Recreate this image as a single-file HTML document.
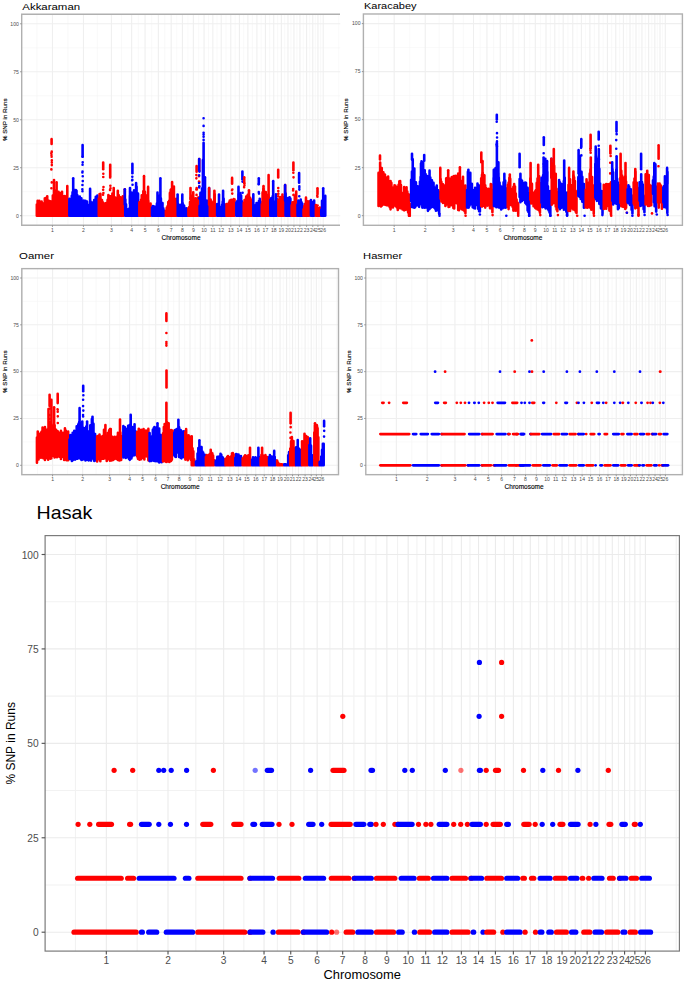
<!DOCTYPE html>
<html><head><meta charset="utf-8"><style>
html,body{margin:0;padding:0;background:#fff;}
svg{display:block;font-family:"Liberation Sans",sans-serif;}
</style></head><body>
<svg width="685" height="981" viewBox="0 0 685 981">
<rect width="685" height="981" fill="#fff"/>
<line x1="36.96" y1="14.21" x2="36.96" y2="225.29" stroke="#f4f4f4" stroke-width="0.55"/>
<line x1="67.95" y1="14.21" x2="67.95" y2="225.29" stroke="#f4f4f4" stroke-width="0.55"/>
<line x1="97.41" y1="14.21" x2="97.41" y2="225.29" stroke="#f4f4f4" stroke-width="0.55"/>
<line x1="121.52" y1="14.21" x2="121.52" y2="225.29" stroke="#f4f4f4" stroke-width="0.55"/>
<line x1="138.37" y1="14.21" x2="138.37" y2="225.29" stroke="#f4f4f4" stroke-width="0.55"/>
<line x1="151.71" y1="14.21" x2="151.71" y2="225.29" stroke="#f4f4f4" stroke-width="0.55"/>
<line x1="164.76" y1="14.21" x2="164.76" y2="225.29" stroke="#f4f4f4" stroke-width="0.55"/>
<line x1="176.80" y1="14.21" x2="176.80" y2="225.29" stroke="#f4f4f4" stroke-width="0.55"/>
<line x1="187.90" y1="14.21" x2="187.90" y2="225.29" stroke="#f4f4f4" stroke-width="0.55"/>
<line x1="198.72" y1="14.21" x2="198.72" y2="225.29" stroke="#f4f4f4" stroke-width="0.55"/>
<line x1="208.46" y1="14.21" x2="208.46" y2="225.29" stroke="#f4f4f4" stroke-width="0.55"/>
<line x1="217.03" y1="14.21" x2="217.03" y2="225.29" stroke="#f4f4f4" stroke-width="0.55"/>
<line x1="226.00" y1="14.21" x2="226.00" y2="225.29" stroke="#f4f4f4" stroke-width="0.55"/>
<line x1="235.10" y1="14.21" x2="235.10" y2="225.29" stroke="#f4f4f4" stroke-width="0.55"/>
<line x1="243.65" y1="14.21" x2="243.65" y2="225.29" stroke="#f4f4f4" stroke-width="0.55"/>
<line x1="252.40" y1="14.21" x2="252.40" y2="225.29" stroke="#f4f4f4" stroke-width="0.55"/>
<line x1="261.16" y1="14.21" x2="261.16" y2="225.29" stroke="#f4f4f4" stroke-width="0.55"/>
<line x1="269.58" y1="14.21" x2="269.58" y2="225.29" stroke="#f4f4f4" stroke-width="0.55"/>
<line x1="277.55" y1="14.21" x2="277.55" y2="225.29" stroke="#f4f4f4" stroke-width="0.55"/>
<line x1="284.67" y1="14.21" x2="284.67" y2="225.29" stroke="#f4f4f4" stroke-width="0.55"/>
<line x1="290.96" y1="14.21" x2="290.96" y2="225.29" stroke="#f4f4f4" stroke-width="0.55"/>
<line x1="296.93" y1="14.21" x2="296.93" y2="225.29" stroke="#f4f4f4" stroke-width="0.55"/>
<line x1="303.26" y1="14.21" x2="303.26" y2="225.29" stroke="#f4f4f4" stroke-width="0.55"/>
<line x1="309.68" y1="14.21" x2="309.68" y2="225.29" stroke="#f4f4f4" stroke-width="0.55"/>
<line x1="315.34" y1="14.21" x2="315.34" y2="225.29" stroke="#f4f4f4" stroke-width="0.55"/>
<line x1="320.57" y1="14.21" x2="320.57" y2="225.29" stroke="#f4f4f4" stroke-width="0.55"/>
<line x1="338.70" y1="14.21" x2="338.70" y2="225.29" stroke="#f4f4f4" stroke-width="0.55"/>
<line x1="21.70" y1="191.71" x2="340.30" y2="191.71" stroke="#f4f4f4" stroke-width="0.55"/>
<line x1="21.70" y1="143.74" x2="340.30" y2="143.74" stroke="#f4f4f4" stroke-width="0.55"/>
<line x1="21.70" y1="95.76" x2="340.30" y2="95.76" stroke="#f4f4f4" stroke-width="0.55"/>
<line x1="21.70" y1="47.79" x2="340.30" y2="47.79" stroke="#f4f4f4" stroke-width="0.55"/>
<line x1="52.45" y1="14.21" x2="52.45" y2="225.29" stroke="#efefef" stroke-width="1.10"/>
<line x1="83.44" y1="14.21" x2="83.44" y2="225.29" stroke="#efefef" stroke-width="1.10"/>
<line x1="111.39" y1="14.21" x2="111.39" y2="225.29" stroke="#efefef" stroke-width="1.10"/>
<line x1="131.66" y1="14.21" x2="131.66" y2="225.29" stroke="#efefef" stroke-width="1.10"/>
<line x1="145.08" y1="14.21" x2="145.08" y2="225.29" stroke="#efefef" stroke-width="1.10"/>
<line x1="158.35" y1="14.21" x2="158.35" y2="225.29" stroke="#efefef" stroke-width="1.10"/>
<line x1="171.17" y1="14.21" x2="171.17" y2="225.29" stroke="#efefef" stroke-width="1.10"/>
<line x1="182.43" y1="14.21" x2="182.43" y2="225.29" stroke="#efefef" stroke-width="1.10"/>
<line x1="193.37" y1="14.21" x2="193.37" y2="225.29" stroke="#efefef" stroke-width="1.10"/>
<line x1="204.07" y1="14.21" x2="204.07" y2="225.29" stroke="#efefef" stroke-width="1.10"/>
<line x1="212.85" y1="14.21" x2="212.85" y2="225.29" stroke="#efefef" stroke-width="1.10"/>
<line x1="221.21" y1="14.21" x2="221.21" y2="225.29" stroke="#efefef" stroke-width="1.10"/>
<line x1="230.79" y1="14.21" x2="230.79" y2="225.29" stroke="#efefef" stroke-width="1.10"/>
<line x1="239.41" y1="14.21" x2="239.41" y2="225.29" stroke="#efefef" stroke-width="1.10"/>
<line x1="247.89" y1="14.21" x2="247.89" y2="225.29" stroke="#efefef" stroke-width="1.10"/>
<line x1="256.91" y1="14.21" x2="256.91" y2="225.29" stroke="#efefef" stroke-width="1.10"/>
<line x1="265.42" y1="14.21" x2="265.42" y2="225.29" stroke="#efefef" stroke-width="1.10"/>
<line x1="273.74" y1="14.21" x2="273.74" y2="225.29" stroke="#efefef" stroke-width="1.10"/>
<line x1="281.37" y1="14.21" x2="281.37" y2="225.29" stroke="#efefef" stroke-width="1.10"/>
<line x1="287.97" y1="14.21" x2="287.97" y2="225.29" stroke="#efefef" stroke-width="1.10"/>
<line x1="293.95" y1="14.21" x2="293.95" y2="225.29" stroke="#efefef" stroke-width="1.10"/>
<line x1="299.92" y1="14.21" x2="299.92" y2="225.29" stroke="#efefef" stroke-width="1.10"/>
<line x1="306.60" y1="14.21" x2="306.60" y2="225.29" stroke="#efefef" stroke-width="1.10"/>
<line x1="312.76" y1="14.21" x2="312.76" y2="225.29" stroke="#efefef" stroke-width="1.10"/>
<line x1="317.92" y1="14.21" x2="317.92" y2="225.29" stroke="#efefef" stroke-width="1.10"/>
<line x1="323.21" y1="14.21" x2="323.21" y2="225.29" stroke="#efefef" stroke-width="1.10"/>
<line x1="21.70" y1="215.70" x2="340.30" y2="215.70" stroke="#efefef" stroke-width="1.10"/>
<line x1="21.70" y1="167.72" x2="340.30" y2="167.72" stroke="#efefef" stroke-width="1.10"/>
<line x1="21.70" y1="119.75" x2="340.30" y2="119.75" stroke="#efefef" stroke-width="1.10"/>
<line x1="21.70" y1="71.78" x2="340.30" y2="71.78" stroke="#efefef" stroke-width="1.10"/>
<line x1="21.70" y1="23.80" x2="340.30" y2="23.80" stroke="#efefef" stroke-width="1.10"/>
<line x1="378.68" y1="13.99" x2="378.68" y2="225.30" stroke="#f4f4f4" stroke-width="0.55"/>
<line x1="409.70" y1="13.99" x2="409.70" y2="225.30" stroke="#f4f4f4" stroke-width="0.55"/>
<line x1="439.21" y1="13.99" x2="439.21" y2="225.30" stroke="#f4f4f4" stroke-width="0.55"/>
<line x1="463.35" y1="13.99" x2="463.35" y2="225.30" stroke="#f4f4f4" stroke-width="0.55"/>
<line x1="480.22" y1="13.99" x2="480.22" y2="225.30" stroke="#f4f4f4" stroke-width="0.55"/>
<line x1="493.58" y1="13.99" x2="493.58" y2="225.30" stroke="#f4f4f4" stroke-width="0.55"/>
<line x1="506.64" y1="13.99" x2="506.64" y2="225.30" stroke="#f4f4f4" stroke-width="0.55"/>
<line x1="518.69" y1="13.99" x2="518.69" y2="225.30" stroke="#f4f4f4" stroke-width="0.55"/>
<line x1="529.81" y1="13.99" x2="529.81" y2="225.30" stroke="#f4f4f4" stroke-width="0.55"/>
<line x1="540.64" y1="13.99" x2="540.64" y2="225.30" stroke="#f4f4f4" stroke-width="0.55"/>
<line x1="550.39" y1="13.99" x2="550.39" y2="225.30" stroke="#f4f4f4" stroke-width="0.55"/>
<line x1="558.98" y1="13.99" x2="558.98" y2="225.30" stroke="#f4f4f4" stroke-width="0.55"/>
<line x1="567.96" y1="13.99" x2="567.96" y2="225.30" stroke="#f4f4f4" stroke-width="0.55"/>
<line x1="577.07" y1="13.99" x2="577.07" y2="225.30" stroke="#f4f4f4" stroke-width="0.55"/>
<line x1="585.63" y1="13.99" x2="585.63" y2="225.30" stroke="#f4f4f4" stroke-width="0.55"/>
<line x1="594.39" y1="13.99" x2="594.39" y2="225.30" stroke="#f4f4f4" stroke-width="0.55"/>
<line x1="603.16" y1="13.99" x2="603.16" y2="225.30" stroke="#f4f4f4" stroke-width="0.55"/>
<line x1="611.59" y1="13.99" x2="611.59" y2="225.30" stroke="#f4f4f4" stroke-width="0.55"/>
<line x1="619.58" y1="13.99" x2="619.58" y2="225.30" stroke="#f4f4f4" stroke-width="0.55"/>
<line x1="626.70" y1="13.99" x2="626.70" y2="225.30" stroke="#f4f4f4" stroke-width="0.55"/>
<line x1="633.00" y1="13.99" x2="633.00" y2="225.30" stroke="#f4f4f4" stroke-width="0.55"/>
<line x1="638.98" y1="13.99" x2="638.98" y2="225.30" stroke="#f4f4f4" stroke-width="0.55"/>
<line x1="645.31" y1="13.99" x2="645.31" y2="225.30" stroke="#f4f4f4" stroke-width="0.55"/>
<line x1="651.74" y1="13.99" x2="651.74" y2="225.30" stroke="#f4f4f4" stroke-width="0.55"/>
<line x1="657.41" y1="13.99" x2="657.41" y2="225.30" stroke="#f4f4f4" stroke-width="0.55"/>
<line x1="662.64" y1="13.99" x2="662.64" y2="225.30" stroke="#f4f4f4" stroke-width="0.55"/>
<line x1="680.80" y1="13.99" x2="680.80" y2="225.30" stroke="#f4f4f4" stroke-width="0.55"/>
<line x1="363.40" y1="191.69" x2="682.40" y2="191.69" stroke="#f4f4f4" stroke-width="0.55"/>
<line x1="363.40" y1="143.66" x2="682.40" y2="143.66" stroke="#f4f4f4" stroke-width="0.55"/>
<line x1="363.40" y1="95.64" x2="682.40" y2="95.64" stroke="#f4f4f4" stroke-width="0.55"/>
<line x1="363.40" y1="47.61" x2="682.40" y2="47.61" stroke="#f4f4f4" stroke-width="0.55"/>
<line x1="394.19" y1="13.99" x2="394.19" y2="225.30" stroke="#efefef" stroke-width="1.10"/>
<line x1="425.22" y1="13.99" x2="425.22" y2="225.30" stroke="#efefef" stroke-width="1.10"/>
<line x1="453.20" y1="13.99" x2="453.20" y2="225.30" stroke="#efefef" stroke-width="1.10"/>
<line x1="473.50" y1="13.99" x2="473.50" y2="225.30" stroke="#efefef" stroke-width="1.10"/>
<line x1="486.93" y1="13.99" x2="486.93" y2="225.30" stroke="#efefef" stroke-width="1.10"/>
<line x1="500.22" y1="13.99" x2="500.22" y2="225.30" stroke="#efefef" stroke-width="1.10"/>
<line x1="513.06" y1="13.99" x2="513.06" y2="225.30" stroke="#efefef" stroke-width="1.10"/>
<line x1="524.33" y1="13.99" x2="524.33" y2="225.30" stroke="#efefef" stroke-width="1.10"/>
<line x1="535.29" y1="13.99" x2="535.29" y2="225.30" stroke="#efefef" stroke-width="1.10"/>
<line x1="546.00" y1="13.99" x2="546.00" y2="225.30" stroke="#efefef" stroke-width="1.10"/>
<line x1="554.79" y1="13.99" x2="554.79" y2="225.30" stroke="#efefef" stroke-width="1.10"/>
<line x1="563.16" y1="13.99" x2="563.16" y2="225.30" stroke="#efefef" stroke-width="1.10"/>
<line x1="572.75" y1="13.99" x2="572.75" y2="225.30" stroke="#efefef" stroke-width="1.10"/>
<line x1="581.38" y1="13.99" x2="581.38" y2="225.30" stroke="#efefef" stroke-width="1.10"/>
<line x1="589.87" y1="13.99" x2="589.87" y2="225.30" stroke="#efefef" stroke-width="1.10"/>
<line x1="598.90" y1="13.99" x2="598.90" y2="225.30" stroke="#efefef" stroke-width="1.10"/>
<line x1="607.42" y1="13.99" x2="607.42" y2="225.30" stroke="#efefef" stroke-width="1.10"/>
<line x1="615.76" y1="13.99" x2="615.76" y2="225.30" stroke="#efefef" stroke-width="1.10"/>
<line x1="623.39" y1="13.99" x2="623.39" y2="225.30" stroke="#efefef" stroke-width="1.10"/>
<line x1="630.00" y1="13.99" x2="630.00" y2="225.30" stroke="#efefef" stroke-width="1.10"/>
<line x1="636.00" y1="13.99" x2="636.00" y2="225.30" stroke="#efefef" stroke-width="1.10"/>
<line x1="641.96" y1="13.99" x2="641.96" y2="225.30" stroke="#efefef" stroke-width="1.10"/>
<line x1="648.66" y1="13.99" x2="648.66" y2="225.30" stroke="#efefef" stroke-width="1.10"/>
<line x1="654.83" y1="13.99" x2="654.83" y2="225.30" stroke="#efefef" stroke-width="1.10"/>
<line x1="660.00" y1="13.99" x2="660.00" y2="225.30" stroke="#efefef" stroke-width="1.10"/>
<line x1="665.29" y1="13.99" x2="665.29" y2="225.30" stroke="#efefef" stroke-width="1.10"/>
<line x1="363.40" y1="215.70" x2="682.40" y2="215.70" stroke="#efefef" stroke-width="1.10"/>
<line x1="363.40" y1="167.67" x2="682.40" y2="167.67" stroke="#efefef" stroke-width="1.10"/>
<line x1="363.40" y1="119.65" x2="682.40" y2="119.65" stroke="#efefef" stroke-width="1.10"/>
<line x1="363.40" y1="71.62" x2="682.40" y2="71.62" stroke="#efefef" stroke-width="1.10"/>
<line x1="363.40" y1="23.60" x2="682.40" y2="23.60" stroke="#efefef" stroke-width="1.10"/>
<line x1="22.47" y1="268.63" x2="22.47" y2="474.67" stroke="#f4f4f4" stroke-width="0.55"/>
<line x1="37.52" y1="268.63" x2="37.52" y2="474.67" stroke="#f4f4f4" stroke-width="0.55"/>
<line x1="67.62" y1="268.63" x2="67.62" y2="474.67" stroke="#f4f4f4" stroke-width="0.55"/>
<line x1="96.13" y1="268.63" x2="96.13" y2="474.67" stroke="#f4f4f4" stroke-width="0.55"/>
<line x1="119.60" y1="268.63" x2="119.60" y2="474.67" stroke="#f4f4f4" stroke-width="0.55"/>
<line x1="136.17" y1="268.63" x2="136.17" y2="474.67" stroke="#f4f4f4" stroke-width="0.55"/>
<line x1="149.21" y1="268.63" x2="149.21" y2="474.67" stroke="#f4f4f4" stroke-width="0.55"/>
<line x1="161.86" y1="268.63" x2="161.86" y2="474.67" stroke="#f4f4f4" stroke-width="0.55"/>
<line x1="173.60" y1="268.63" x2="173.60" y2="474.67" stroke="#f4f4f4" stroke-width="0.55"/>
<line x1="184.59" y1="268.63" x2="184.59" y2="474.67" stroke="#f4f4f4" stroke-width="0.55"/>
<line x1="195.14" y1="268.63" x2="195.14" y2="474.67" stroke="#f4f4f4" stroke-width="0.55"/>
<line x1="205.23" y1="268.63" x2="205.23" y2="474.67" stroke="#f4f4f4" stroke-width="0.55"/>
<line x1="215.10" y1="268.63" x2="215.10" y2="474.67" stroke="#f4f4f4" stroke-width="0.55"/>
<line x1="224.93" y1="268.63" x2="224.93" y2="474.67" stroke="#f4f4f4" stroke-width="0.55"/>
<line x1="234.12" y1="268.63" x2="234.12" y2="474.67" stroke="#f4f4f4" stroke-width="0.55"/>
<line x1="242.60" y1="268.63" x2="242.60" y2="474.67" stroke="#f4f4f4" stroke-width="0.55"/>
<line x1="251.29" y1="268.63" x2="251.29" y2="474.67" stroke="#f4f4f4" stroke-width="0.55"/>
<line x1="259.99" y1="268.63" x2="259.99" y2="474.67" stroke="#f4f4f4" stroke-width="0.55"/>
<line x1="268.35" y1="268.63" x2="268.35" y2="474.67" stroke="#f4f4f4" stroke-width="0.55"/>
<line x1="276.27" y1="268.63" x2="276.27" y2="474.67" stroke="#f4f4f4" stroke-width="0.55"/>
<line x1="283.33" y1="268.63" x2="283.33" y2="474.67" stroke="#f4f4f4" stroke-width="0.55"/>
<line x1="289.58" y1="268.63" x2="289.58" y2="474.67" stroke="#f4f4f4" stroke-width="0.55"/>
<line x1="295.51" y1="268.63" x2="295.51" y2="474.67" stroke="#f4f4f4" stroke-width="0.55"/>
<line x1="301.79" y1="268.63" x2="301.79" y2="474.67" stroke="#f4f4f4" stroke-width="0.55"/>
<line x1="308.17" y1="268.63" x2="308.17" y2="474.67" stroke="#f4f4f4" stroke-width="0.55"/>
<line x1="313.79" y1="268.63" x2="313.79" y2="474.67" stroke="#f4f4f4" stroke-width="0.55"/>
<line x1="318.98" y1="268.63" x2="318.98" y2="474.67" stroke="#f4f4f4" stroke-width="0.55"/>
<line x1="336.65" y1="268.63" x2="336.65" y2="474.67" stroke="#f4f4f4" stroke-width="0.55"/>
<line x1="21.80" y1="441.89" x2="338.50" y2="441.89" stroke="#f4f4f4" stroke-width="0.55"/>
<line x1="21.80" y1="395.06" x2="338.50" y2="395.06" stroke="#f4f4f4" stroke-width="0.55"/>
<line x1="21.80" y1="348.24" x2="338.50" y2="348.24" stroke="#f4f4f4" stroke-width="0.55"/>
<line x1="21.80" y1="301.41" x2="338.50" y2="301.41" stroke="#f4f4f4" stroke-width="0.55"/>
<line x1="52.57" y1="268.63" x2="52.57" y2="474.67" stroke="#efefef" stroke-width="1.10"/>
<line x1="82.67" y1="268.63" x2="82.67" y2="474.67" stroke="#efefef" stroke-width="1.10"/>
<line x1="109.60" y1="268.63" x2="109.60" y2="474.67" stroke="#efefef" stroke-width="1.10"/>
<line x1="129.61" y1="268.63" x2="129.61" y2="474.67" stroke="#efefef" stroke-width="1.10"/>
<line x1="142.74" y1="268.63" x2="142.74" y2="474.67" stroke="#efefef" stroke-width="1.10"/>
<line x1="155.69" y1="268.63" x2="155.69" y2="474.67" stroke="#efefef" stroke-width="1.10"/>
<line x1="168.03" y1="268.63" x2="168.03" y2="474.67" stroke="#efefef" stroke-width="1.10"/>
<line x1="179.17" y1="268.63" x2="179.17" y2="474.67" stroke="#efefef" stroke-width="1.10"/>
<line x1="190.00" y1="268.63" x2="190.00" y2="474.67" stroke="#efefef" stroke-width="1.10"/>
<line x1="200.28" y1="268.63" x2="200.28" y2="474.67" stroke="#efefef" stroke-width="1.10"/>
<line x1="210.18" y1="268.63" x2="210.18" y2="474.67" stroke="#efefef" stroke-width="1.10"/>
<line x1="220.02" y1="268.63" x2="220.02" y2="474.67" stroke="#efefef" stroke-width="1.10"/>
<line x1="229.84" y1="268.63" x2="229.84" y2="474.67" stroke="#efefef" stroke-width="1.10"/>
<line x1="238.39" y1="268.63" x2="238.39" y2="474.67" stroke="#efefef" stroke-width="1.10"/>
<line x1="246.82" y1="268.63" x2="246.82" y2="474.67" stroke="#efefef" stroke-width="1.10"/>
<line x1="255.77" y1="268.63" x2="255.77" y2="474.67" stroke="#efefef" stroke-width="1.10"/>
<line x1="264.22" y1="268.63" x2="264.22" y2="474.67" stroke="#efefef" stroke-width="1.10"/>
<line x1="272.48" y1="268.63" x2="272.48" y2="474.67" stroke="#efefef" stroke-width="1.10"/>
<line x1="280.06" y1="268.63" x2="280.06" y2="474.67" stroke="#efefef" stroke-width="1.10"/>
<line x1="286.61" y1="268.63" x2="286.61" y2="474.67" stroke="#efefef" stroke-width="1.10"/>
<line x1="292.55" y1="268.63" x2="292.55" y2="474.67" stroke="#efefef" stroke-width="1.10"/>
<line x1="298.47" y1="268.63" x2="298.47" y2="474.67" stroke="#efefef" stroke-width="1.10"/>
<line x1="305.11" y1="268.63" x2="305.11" y2="474.67" stroke="#efefef" stroke-width="1.10"/>
<line x1="311.23" y1="268.63" x2="311.23" y2="474.67" stroke="#efefef" stroke-width="1.10"/>
<line x1="316.35" y1="268.63" x2="316.35" y2="474.67" stroke="#efefef" stroke-width="1.10"/>
<line x1="321.60" y1="268.63" x2="321.60" y2="474.67" stroke="#efefef" stroke-width="1.10"/>
<line x1="21.80" y1="465.30" x2="338.50" y2="465.30" stroke="#efefef" stroke-width="1.10"/>
<line x1="21.80" y1="418.48" x2="338.50" y2="418.48" stroke="#efefef" stroke-width="1.10"/>
<line x1="21.80" y1="371.65" x2="338.50" y2="371.65" stroke="#efefef" stroke-width="1.10"/>
<line x1="21.80" y1="324.82" x2="338.50" y2="324.82" stroke="#efefef" stroke-width="1.10"/>
<line x1="21.80" y1="278.00" x2="338.50" y2="278.00" stroke="#efefef" stroke-width="1.10"/>
<line x1="380.97" y1="268.63" x2="380.97" y2="474.67" stroke="#f4f4f4" stroke-width="0.55"/>
<line x1="411.76" y1="268.63" x2="411.76" y2="474.67" stroke="#f4f4f4" stroke-width="0.55"/>
<line x1="441.04" y1="268.63" x2="441.04" y2="474.67" stroke="#f4f4f4" stroke-width="0.55"/>
<line x1="465.00" y1="268.63" x2="465.00" y2="474.67" stroke="#f4f4f4" stroke-width="0.55"/>
<line x1="481.74" y1="268.63" x2="481.74" y2="474.67" stroke="#f4f4f4" stroke-width="0.55"/>
<line x1="495.00" y1="268.63" x2="495.00" y2="474.67" stroke="#f4f4f4" stroke-width="0.55"/>
<line x1="507.96" y1="268.63" x2="507.96" y2="474.67" stroke="#f4f4f4" stroke-width="0.55"/>
<line x1="519.93" y1="268.63" x2="519.93" y2="474.67" stroke="#f4f4f4" stroke-width="0.55"/>
<line x1="530.96" y1="268.63" x2="530.96" y2="474.67" stroke="#f4f4f4" stroke-width="0.55"/>
<line x1="541.71" y1="268.63" x2="541.71" y2="474.67" stroke="#f4f4f4" stroke-width="0.55"/>
<line x1="551.39" y1="268.63" x2="551.39" y2="474.67" stroke="#f4f4f4" stroke-width="0.55"/>
<line x1="559.90" y1="268.63" x2="559.90" y2="474.67" stroke="#f4f4f4" stroke-width="0.55"/>
<line x1="568.82" y1="268.63" x2="568.82" y2="474.67" stroke="#f4f4f4" stroke-width="0.55"/>
<line x1="577.86" y1="268.63" x2="577.86" y2="474.67" stroke="#f4f4f4" stroke-width="0.55"/>
<line x1="586.35" y1="268.63" x2="586.35" y2="474.67" stroke="#f4f4f4" stroke-width="0.55"/>
<line x1="595.05" y1="268.63" x2="595.05" y2="474.67" stroke="#f4f4f4" stroke-width="0.55"/>
<line x1="603.76" y1="268.63" x2="603.76" y2="474.67" stroke="#f4f4f4" stroke-width="0.55"/>
<line x1="612.12" y1="268.63" x2="612.12" y2="474.67" stroke="#f4f4f4" stroke-width="0.55"/>
<line x1="620.05" y1="268.63" x2="620.05" y2="474.67" stroke="#f4f4f4" stroke-width="0.55"/>
<line x1="627.12" y1="268.63" x2="627.12" y2="474.67" stroke="#f4f4f4" stroke-width="0.55"/>
<line x1="633.37" y1="268.63" x2="633.37" y2="474.67" stroke="#f4f4f4" stroke-width="0.55"/>
<line x1="639.31" y1="268.63" x2="639.31" y2="474.67" stroke="#f4f4f4" stroke-width="0.55"/>
<line x1="645.59" y1="268.63" x2="645.59" y2="474.67" stroke="#f4f4f4" stroke-width="0.55"/>
<line x1="651.97" y1="268.63" x2="651.97" y2="474.67" stroke="#f4f4f4" stroke-width="0.55"/>
<line x1="657.60" y1="268.63" x2="657.60" y2="474.67" stroke="#f4f4f4" stroke-width="0.55"/>
<line x1="662.79" y1="268.63" x2="662.79" y2="474.67" stroke="#f4f4f4" stroke-width="0.55"/>
<line x1="680.81" y1="268.63" x2="680.81" y2="474.67" stroke="#f4f4f4" stroke-width="0.55"/>
<line x1="365.80" y1="441.89" x2="682.40" y2="441.89" stroke="#f4f4f4" stroke-width="0.55"/>
<line x1="365.80" y1="395.06" x2="682.40" y2="395.06" stroke="#f4f4f4" stroke-width="0.55"/>
<line x1="365.80" y1="348.24" x2="682.40" y2="348.24" stroke="#f4f4f4" stroke-width="0.55"/>
<line x1="365.80" y1="301.41" x2="682.40" y2="301.41" stroke="#f4f4f4" stroke-width="0.55"/>
<line x1="396.36" y1="268.63" x2="396.36" y2="474.67" stroke="#efefef" stroke-width="1.10"/>
<line x1="427.15" y1="268.63" x2="427.15" y2="474.67" stroke="#efefef" stroke-width="1.10"/>
<line x1="454.92" y1="268.63" x2="454.92" y2="474.67" stroke="#efefef" stroke-width="1.10"/>
<line x1="475.07" y1="268.63" x2="475.07" y2="474.67" stroke="#efefef" stroke-width="1.10"/>
<line x1="488.40" y1="268.63" x2="488.40" y2="474.67" stroke="#efefef" stroke-width="1.10"/>
<line x1="501.59" y1="268.63" x2="501.59" y2="474.67" stroke="#efefef" stroke-width="1.10"/>
<line x1="514.33" y1="268.63" x2="514.33" y2="474.67" stroke="#efefef" stroke-width="1.10"/>
<line x1="525.52" y1="268.63" x2="525.52" y2="474.67" stroke="#efefef" stroke-width="1.10"/>
<line x1="536.39" y1="268.63" x2="536.39" y2="474.67" stroke="#efefef" stroke-width="1.10"/>
<line x1="547.02" y1="268.63" x2="547.02" y2="474.67" stroke="#efefef" stroke-width="1.10"/>
<line x1="555.75" y1="268.63" x2="555.75" y2="474.67" stroke="#efefef" stroke-width="1.10"/>
<line x1="564.06" y1="268.63" x2="564.06" y2="474.67" stroke="#efefef" stroke-width="1.10"/>
<line x1="573.58" y1="268.63" x2="573.58" y2="474.67" stroke="#efefef" stroke-width="1.10"/>
<line x1="582.14" y1="268.63" x2="582.14" y2="474.67" stroke="#efefef" stroke-width="1.10"/>
<line x1="590.57" y1="268.63" x2="590.57" y2="474.67" stroke="#efefef" stroke-width="1.10"/>
<line x1="599.53" y1="268.63" x2="599.53" y2="474.67" stroke="#efefef" stroke-width="1.10"/>
<line x1="607.99" y1="268.63" x2="607.99" y2="474.67" stroke="#efefef" stroke-width="1.10"/>
<line x1="616.26" y1="268.63" x2="616.26" y2="474.67" stroke="#efefef" stroke-width="1.10"/>
<line x1="623.84" y1="268.63" x2="623.84" y2="474.67" stroke="#efefef" stroke-width="1.10"/>
<line x1="630.40" y1="268.63" x2="630.40" y2="474.67" stroke="#efefef" stroke-width="1.10"/>
<line x1="636.34" y1="268.63" x2="636.34" y2="474.67" stroke="#efefef" stroke-width="1.10"/>
<line x1="642.27" y1="268.63" x2="642.27" y2="474.67" stroke="#efefef" stroke-width="1.10"/>
<line x1="648.91" y1="268.63" x2="648.91" y2="474.67" stroke="#efefef" stroke-width="1.10"/>
<line x1="655.03" y1="268.63" x2="655.03" y2="474.67" stroke="#efefef" stroke-width="1.10"/>
<line x1="660.16" y1="268.63" x2="660.16" y2="474.67" stroke="#efefef" stroke-width="1.10"/>
<line x1="665.42" y1="268.63" x2="665.42" y2="474.67" stroke="#efefef" stroke-width="1.10"/>
<line x1="365.80" y1="465.30" x2="682.40" y2="465.30" stroke="#efefef" stroke-width="1.10"/>
<line x1="365.80" y1="418.48" x2="682.40" y2="418.48" stroke="#efefef" stroke-width="1.10"/>
<line x1="365.80" y1="371.65" x2="682.40" y2="371.65" stroke="#efefef" stroke-width="1.10"/>
<line x1="365.80" y1="324.82" x2="682.40" y2="324.82" stroke="#efefef" stroke-width="1.10"/>
<line x1="365.80" y1="278.00" x2="682.40" y2="278.00" stroke="#efefef" stroke-width="1.10"/>
<line x1="75.48" y1="535.62" x2="75.48" y2="951.09" stroke="#f2f2f2" stroke-width="1.10"/>
<line x1="137.17" y1="535.62" x2="137.17" y2="951.09" stroke="#f2f2f2" stroke-width="1.10"/>
<line x1="195.83" y1="535.62" x2="195.83" y2="951.09" stroke="#f2f2f2" stroke-width="1.10"/>
<line x1="243.84" y1="535.62" x2="243.84" y2="951.09" stroke="#f2f2f2" stroke-width="1.10"/>
<line x1="277.38" y1="535.62" x2="277.38" y2="951.09" stroke="#f2f2f2" stroke-width="1.10"/>
<line x1="303.95" y1="535.62" x2="303.95" y2="951.09" stroke="#f2f2f2" stroke-width="1.10"/>
<line x1="329.92" y1="535.62" x2="329.92" y2="951.09" stroke="#f2f2f2" stroke-width="1.10"/>
<line x1="353.89" y1="535.62" x2="353.89" y2="951.09" stroke="#f2f2f2" stroke-width="1.10"/>
<line x1="375.99" y1="535.62" x2="375.99" y2="951.09" stroke="#f2f2f2" stroke-width="1.10"/>
<line x1="397.53" y1="535.62" x2="397.53" y2="951.09" stroke="#f2f2f2" stroke-width="1.10"/>
<line x1="416.92" y1="535.62" x2="416.92" y2="951.09" stroke="#f2f2f2" stroke-width="1.10"/>
<line x1="433.98" y1="535.62" x2="433.98" y2="951.09" stroke="#f2f2f2" stroke-width="1.10"/>
<line x1="451.84" y1="535.62" x2="451.84" y2="951.09" stroke="#f2f2f2" stroke-width="1.10"/>
<line x1="469.95" y1="535.62" x2="469.95" y2="951.09" stroke="#f2f2f2" stroke-width="1.10"/>
<line x1="486.98" y1="535.62" x2="486.98" y2="951.09" stroke="#f2f2f2" stroke-width="1.10"/>
<line x1="504.40" y1="535.62" x2="504.40" y2="951.09" stroke="#f2f2f2" stroke-width="1.10"/>
<line x1="521.84" y1="535.62" x2="521.84" y2="951.09" stroke="#f2f2f2" stroke-width="1.10"/>
<line x1="538.60" y1="535.62" x2="538.60" y2="951.09" stroke="#f2f2f2" stroke-width="1.10"/>
<line x1="554.48" y1="535.62" x2="554.48" y2="951.09" stroke="#f2f2f2" stroke-width="1.10"/>
<line x1="568.64" y1="535.62" x2="568.64" y2="951.09" stroke="#f2f2f2" stroke-width="1.10"/>
<line x1="581.17" y1="535.62" x2="581.17" y2="951.09" stroke="#f2f2f2" stroke-width="1.10"/>
<line x1="593.06" y1="535.62" x2="593.06" y2="951.09" stroke="#f2f2f2" stroke-width="1.10"/>
<line x1="605.65" y1="535.62" x2="605.65" y2="951.09" stroke="#f2f2f2" stroke-width="1.10"/>
<line x1="618.44" y1="535.62" x2="618.44" y2="951.09" stroke="#f2f2f2" stroke-width="1.10"/>
<line x1="629.71" y1="535.62" x2="629.71" y2="951.09" stroke="#f2f2f2" stroke-width="1.10"/>
<line x1="640.12" y1="535.62" x2="640.12" y2="951.09" stroke="#f2f2f2" stroke-width="1.10"/>
<line x1="676.22" y1="535.62" x2="676.22" y2="951.09" stroke="#f2f2f2" stroke-width="1.10"/>
<line x1="45.10" y1="884.99" x2="679.40" y2="884.99" stroke="#f2f2f2" stroke-width="1.10"/>
<line x1="45.10" y1="790.56" x2="679.40" y2="790.56" stroke="#f2f2f2" stroke-width="1.10"/>
<line x1="45.10" y1="696.14" x2="679.40" y2="696.14" stroke="#f2f2f2" stroke-width="1.10"/>
<line x1="45.10" y1="601.71" x2="679.40" y2="601.71" stroke="#f2f2f2" stroke-width="1.10"/>
<line x1="106.33" y1="535.62" x2="106.33" y2="951.09" stroke="#ebebeb" stroke-width="1.10"/>
<line x1="168.01" y1="535.62" x2="168.01" y2="951.09" stroke="#ebebeb" stroke-width="1.10"/>
<line x1="223.65" y1="535.62" x2="223.65" y2="951.09" stroke="#ebebeb" stroke-width="1.10"/>
<line x1="264.03" y1="535.62" x2="264.03" y2="951.09" stroke="#ebebeb" stroke-width="1.10"/>
<line x1="290.73" y1="535.62" x2="290.73" y2="951.09" stroke="#ebebeb" stroke-width="1.10"/>
<line x1="317.16" y1="535.62" x2="317.16" y2="951.09" stroke="#ebebeb" stroke-width="1.10"/>
<line x1="342.68" y1="535.62" x2="342.68" y2="951.09" stroke="#ebebeb" stroke-width="1.10"/>
<line x1="365.10" y1="535.62" x2="365.10" y2="951.09" stroke="#ebebeb" stroke-width="1.10"/>
<line x1="386.88" y1="535.62" x2="386.88" y2="951.09" stroke="#ebebeb" stroke-width="1.10"/>
<line x1="408.17" y1="535.62" x2="408.17" y2="951.09" stroke="#ebebeb" stroke-width="1.10"/>
<line x1="425.67" y1="535.62" x2="425.67" y2="951.09" stroke="#ebebeb" stroke-width="1.10"/>
<line x1="442.30" y1="535.62" x2="442.30" y2="951.09" stroke="#ebebeb" stroke-width="1.10"/>
<line x1="461.38" y1="535.62" x2="461.38" y2="951.09" stroke="#ebebeb" stroke-width="1.10"/>
<line x1="478.53" y1="535.62" x2="478.53" y2="951.09" stroke="#ebebeb" stroke-width="1.10"/>
<line x1="495.42" y1="535.62" x2="495.42" y2="951.09" stroke="#ebebeb" stroke-width="1.10"/>
<line x1="513.37" y1="535.62" x2="513.37" y2="951.09" stroke="#ebebeb" stroke-width="1.10"/>
<line x1="530.31" y1="535.62" x2="530.31" y2="951.09" stroke="#ebebeb" stroke-width="1.10"/>
<line x1="546.89" y1="535.62" x2="546.89" y2="951.09" stroke="#ebebeb" stroke-width="1.10"/>
<line x1="562.07" y1="535.62" x2="562.07" y2="951.09" stroke="#ebebeb" stroke-width="1.10"/>
<line x1="575.21" y1="535.62" x2="575.21" y2="951.09" stroke="#ebebeb" stroke-width="1.10"/>
<line x1="587.13" y1="535.62" x2="587.13" y2="951.09" stroke="#ebebeb" stroke-width="1.10"/>
<line x1="599.00" y1="535.62" x2="599.00" y2="951.09" stroke="#ebebeb" stroke-width="1.10"/>
<line x1="612.30" y1="535.62" x2="612.30" y2="951.09" stroke="#ebebeb" stroke-width="1.10"/>
<line x1="624.57" y1="535.62" x2="624.57" y2="951.09" stroke="#ebebeb" stroke-width="1.10"/>
<line x1="634.85" y1="535.62" x2="634.85" y2="951.09" stroke="#ebebeb" stroke-width="1.10"/>
<line x1="645.38" y1="535.62" x2="645.38" y2="951.09" stroke="#ebebeb" stroke-width="1.10"/>
<line x1="45.10" y1="932.20" x2="679.40" y2="932.20" stroke="#ebebeb" stroke-width="1.10"/>
<line x1="45.10" y1="837.78" x2="679.40" y2="837.78" stroke="#ebebeb" stroke-width="1.10"/>
<line x1="45.10" y1="743.35" x2="679.40" y2="743.35" stroke="#ebebeb" stroke-width="1.10"/>
<line x1="45.10" y1="648.92" x2="679.40" y2="648.92" stroke="#ebebeb" stroke-width="1.10"/>
<line x1="45.10" y1="554.50" x2="679.40" y2="554.50" stroke="#ebebeb" stroke-width="1.10"/>
<path d="M36.83,215.70V204.48M37.63,215.70V200.87M38.43,215.70V206.64M39.23,215.70V200.68M40.03,215.70V205.54M40.83,215.70V204.72M41.63,215.70V201.44M42.43,215.70V204.67M43.23,215.70V203.55M44.03,215.70V206.62M44.83,215.70V198.20M45.63,215.70V197.98M46.43,215.70V200.65M47.23,215.70V196.18M48.03,215.70V201.78M48.83,215.70V200.69M49.63,215.70V203.61M50.43,215.70V201.28M51.23,215.70V202.44M52.03,215.70V201.42M52.83,215.70V195.50M53.63,215.70V200.30M54.43,215.70V197.74M55.23,215.70V190.74M56.03,215.70V190.55M56.83,215.70V195.36M57.63,215.70V198.89M58.43,215.70V201.80M59.23,215.70V202.39M60.03,215.70V193.15M60.83,215.70V198.24M61.63,215.70V202.23M62.43,215.70V197.72M63.23,215.70V196.41M64.03,215.70V198.75M64.83,215.70V196.08M65.63,215.70V204.64M66.43,215.70V201.22M67.23,215.70V201.85M68.03,215.70V204.76" stroke="#ff0000" stroke-width="2.60" stroke-linecap="round" fill="none"/>
<path d="M51.60,143.93V139.13" stroke="#ff0000" stroke-width="2.60" stroke-linecap="round" fill="none"/>
<path d="M51.41,188.24h0M51.78,182.41h0M51.41,169.44h0M51.35,169.37h0M51.81,165.10h0M51.82,162.58h0M51.83,160.40h0M51.58,156.77h0M51.46,155.00h0M51.30,153.31h0M51.69,152.26h0M51.73,151.59h0" stroke="#ff0000" stroke-width="2.60" stroke-linecap="round" fill="none"/>
<path d="M54.00,200.48V180.01" stroke="#ff0000" stroke-width="2.60" stroke-linecap="round" fill="none"/>
<path d="M56.60,200.39V182.31" stroke="#ff0000" stroke-width="2.60" stroke-linecap="round" fill="none"/>
<path d="M58.50,202.04V191.71" stroke="#ff0000" stroke-width="2.60" stroke-linecap="round" fill="none"/>
<path d="M62.00,201.37V191.71" stroke="#ff0000" stroke-width="2.60" stroke-linecap="round" fill="none"/>
<path d="M67.30,203.61V185.96" stroke="#ff0000" stroke-width="2.60" stroke-linecap="round" fill="none"/>
<path d="M69.38,215.70V198.89M70.18,215.70V204.22M70.98,215.70V202.56M71.78,215.70V195.76M72.58,215.70V192.37M73.38,215.70V189.48M74.18,215.70V199.52M74.98,215.70V195.41M75.78,215.70V189.96M76.58,215.70V196.95M77.38,215.70V195.28M78.18,215.70V201.65M78.98,215.70V197.12M79.78,215.70V196.56M80.58,215.70V198.53M81.38,215.70V198.31M82.18,215.70V200.91M82.98,215.70V204.60M83.78,215.70V200.63M84.58,215.70V205.35M85.38,215.70V200.81M86.18,215.70V206.63M86.98,215.70V201.64M87.78,215.70V206.66M88.58,215.70V205.07M89.38,215.70V204.90M90.18,215.70V201.27M90.98,215.70V204.73M91.78,215.70V202.57M92.58,215.70V204.52M93.38,215.70V202.23M94.18,215.70V200.01M94.98,215.70V202.06M95.78,215.70V196.79M96.58,215.70V199.61M97.38,215.70V195.66" stroke="#0000ff" stroke-width="2.60" stroke-linecap="round" fill="none"/>
<path d="M73.20,199.04V178.28" stroke="#0000ff" stroke-width="2.60" stroke-linecap="round" fill="none"/>
<path d="M82.60,156.59V145.08" stroke="#0000ff" stroke-width="2.60" stroke-linecap="round" fill="none"/>
<path d="M82.45,191.22h0M82.34,189.20h0M82.45,184.95h0M82.76,181.10h0M82.72,176.25h0M82.38,172.44h0M82.53,171.51h0M82.55,164.77h0M82.70,162.31h0M82.57,156.76h0" stroke="#0000ff" stroke-width="2.60" stroke-linecap="round" fill="none"/>
<path d="M90.10,204.89V188.83" stroke="#0000ff" stroke-width="2.60" stroke-linecap="round" fill="none"/>
<path d="M76.50,198.91V190.75" stroke="#0000ff" stroke-width="2.60" stroke-linecap="round" fill="none"/>
<path d="M98.80,215.70V198.46M99.60,215.70V194.00M100.40,215.70V193.76M101.20,215.70V199.62M102.00,215.70V200.17M102.80,215.70V202.30M103.60,215.70V204.50M104.40,215.70V203.90M105.20,215.70V203.31M106.00,215.70V203.08M106.80,215.70V202.71M107.60,215.70V199.88M108.40,215.70V194.98M109.20,215.70V196.82M110.00,215.70V196.25M110.80,215.70V196.26M111.60,215.70V197.80M112.40,215.70V193.48M113.20,215.70V196.01M114.00,215.70V197.93M114.80,215.70V201.68M115.60,215.70V197.43M116.40,215.70V200.08M117.20,215.70V200.76M118.00,215.70V197.73M118.80,215.70V195.29M119.60,215.70V201.47M120.40,215.70V197.21M121.20,215.70V200.22M122.00,215.70V203.76M122.80,215.70V196.41M123.60,215.70V202.47" stroke="#ff0000" stroke-width="2.60" stroke-linecap="round" fill="none"/>
<path d="M103.20,169.26V162.54" stroke="#ff0000" stroke-width="2.60" stroke-linecap="round" fill="none"/>
<path d="M103.04,194.80h0M103.40,192.95h0M103.13,189.82h0M103.48,186.98h0M103.28,177.03h0M103.32,173.72h0" stroke="#ff0000" stroke-width="2.60" stroke-linecap="round" fill="none"/>
<path d="M110.20,176.36V164.85" stroke="#ff0000" stroke-width="2.60" stroke-linecap="round" fill="none"/>
<path d="M110.02,189.89h0M110.49,188.19h0M110.35,185.73h0M110.12,177.52h0" stroke="#ff0000" stroke-width="2.60" stroke-linecap="round" fill="none"/>
<path d="M113.70,200.69V188.07" stroke="#ff0000" stroke-width="2.60" stroke-linecap="round" fill="none"/>
<path d="M117.80,200.30V190.75" stroke="#ff0000" stroke-width="2.60" stroke-linecap="round" fill="none"/>
<path d="M124.80,204.20V189.22" stroke="#ff0000" stroke-width="2.60" stroke-linecap="round" fill="none"/>
<path d="M125.27,215.70V199.60M126.07,215.70V204.41M126.87,215.70V209.09M127.67,215.70V209.90M128.47,215.70V211.80M129.27,215.70V208.43M130.07,215.70V195.78M130.87,215.70V198.96M131.67,215.70V192.66M132.47,215.70V196.23M133.27,215.70V198.78M134.07,215.70V190.37M134.87,215.70V201.29M135.67,215.70V198.04M136.47,215.70V186.76M137.27,215.70V197.65M138.07,215.70V193.67" stroke="#0000ff" stroke-width="2.60" stroke-linecap="round" fill="none"/>
<path d="M124.80,204.20V189.22" stroke="#0000ff" stroke-width="2.60" stroke-linecap="round" fill="none"/>
<path d="M130.00,203.61V188.07" stroke="#0000ff" stroke-width="2.60" stroke-linecap="round" fill="none"/>
<path d="M132.40,173.29V163.70" stroke="#0000ff" stroke-width="2.60" stroke-linecap="round" fill="none"/>
<path d="M132.56,184.71h0M132.12,180.36h0M132.37,179.92h0M132.32,176.77h0" stroke="#0000ff" stroke-width="2.60" stroke-linecap="round" fill="none"/>
<path d="M136.10,198.10V183.08" stroke="#0000ff" stroke-width="2.60" stroke-linecap="round" fill="none"/>
<path d="M139.36,215.70V202.37M140.16,215.70V202.04M140.96,215.70V199.87M141.76,215.70V195.36M142.56,215.70V196.92M143.36,215.70V191.37M144.16,215.70V194.72M144.96,215.70V191.90M145.76,215.70V195.13M146.56,215.70V198.57M147.36,215.70V203.33M148.16,215.70V200.89M148.96,215.70V206.20M149.76,215.70V208.06M150.56,215.70V203.64" stroke="#ff0000" stroke-width="2.60" stroke-linecap="round" fill="none"/>
<path d="M144.00,198.91V176.17" stroke="#ff0000" stroke-width="2.60" stroke-linecap="round" fill="none"/>
<path d="M148.10,205.09V186.91" stroke="#ff0000" stroke-width="2.60" stroke-linecap="round" fill="none"/>
<path d="M152.10,215.70V207.59M152.90,215.70V206.16M153.70,215.70V207.27M154.50,215.70V206.54M155.30,215.70V208.83M156.10,215.70V207.49M156.90,215.70V203.48M157.70,215.70V202.98M158.50,215.70V204.85M159.30,215.70V195.57M160.10,215.70V201.24M160.90,215.70V198.59M161.70,215.70V204.60M162.50,215.70V202.99M163.30,215.70V208.29M164.10,215.70V210.66" stroke="#0000ff" stroke-width="2.60" stroke-linecap="round" fill="none"/>
<path d="M160.40,199.58V178.28" stroke="#0000ff" stroke-width="2.60" stroke-linecap="round" fill="none"/>
<path d="M157.50,205.63V192.67" stroke="#0000ff" stroke-width="2.60" stroke-linecap="round" fill="none"/>
<path d="M165.91,215.70V210.75M166.71,215.70V207.88M167.51,215.70V206.24M168.31,215.70V202.01M169.11,215.70V200.91M169.91,215.70V192.92M170.71,215.70V189.71M171.51,215.70V189.01M172.31,215.70V189.55M173.11,215.70V187.38M173.91,215.70V186.58M174.71,215.70V199.79M175.51,215.70V200.09M176.31,215.70V198.87" stroke="#ff0000" stroke-width="2.60" stroke-linecap="round" fill="none"/>
<path d="M172.10,195.62V182.12" stroke="#ff0000" stroke-width="2.60" stroke-linecap="round" fill="none"/>
<path d="M177.73,215.70V203.26M178.53,215.70V204.71M179.33,215.70V205.76M180.13,215.70V204.91M180.93,215.70V205.30M181.73,215.70V206.88M182.53,215.70V203.31M183.33,215.70V204.68M184.13,215.70V205.77M184.93,215.70V209.60M185.73,215.70V209.25M186.53,215.70V208.22M187.33,215.70V209.92" stroke="#0000ff" stroke-width="2.60" stroke-linecap="round" fill="none"/>
<path d="M177.60,201.97V194.59" stroke="#0000ff" stroke-width="2.60" stroke-linecap="round" fill="none"/>
<path d="M182.30,206.50V194.59" stroke="#0000ff" stroke-width="2.60" stroke-linecap="round" fill="none"/>
<path d="M188.43,215.70V208.40M189.23,215.70V207.13M190.03,215.70V202.08M190.83,215.70V197.87M191.63,215.70V195.71M192.43,215.70V196.31M193.23,215.70V192.31M194.03,215.70V201.02M194.83,215.70V204.63M195.63,215.70V198.25M196.43,215.70V204.76M197.23,215.70V204.70M198.03,215.70V197.57" stroke="#ff0000" stroke-width="2.60" stroke-linecap="round" fill="none"/>
<path d="M196.60,171.75V166.00" stroke="#ff0000" stroke-width="2.60" stroke-linecap="round" fill="none"/>
<path d="M196.55,194.90h0M196.35,189.42h0M196.86,189.38h0M196.67,188.11h0M196.37,178.33h0M196.37,175.10h0" stroke="#ff0000" stroke-width="2.60" stroke-linecap="round" fill="none"/>
<path d="M190.50,198.91V188.07" stroke="#ff0000" stroke-width="2.60" stroke-linecap="round" fill="none"/>
<path d="M199.20,170.60V159.09" stroke="#ff0000" stroke-width="2.60" stroke-linecap="round" fill="none"/>
<path d="M199.37,199.05h0M199.45,197.29h0M199.30,186.30h0M199.32,181.88h0M199.00,181.43h0M198.91,176.26h0" stroke="#ff0000" stroke-width="2.60" stroke-linecap="round" fill="none"/>
<path d="M199.61,215.70V205.92M200.41,215.70V192.91M201.21,215.70V194.53M202.01,215.70V188.59M202.81,215.70V195.89M203.61,215.70V190.85M204.41,215.70V200.37M205.21,215.70V200.71M206.01,215.70V201.33M206.81,215.70V200.56M207.61,215.70V201.30M208.41,215.70V202.26" stroke="#0000ff" stroke-width="2.60" stroke-linecap="round" fill="none"/>
<path d="M199.20,170.60V159.09" stroke="#0000ff" stroke-width="2.60" stroke-linecap="round" fill="none"/>
<path d="M199.13,198.35h0M199.24,187.52h0M199.27,186.53h0M199.05,183.07h0M199.14,175.38h0M199.47,171.58h0" stroke="#0000ff" stroke-width="2.60" stroke-linecap="round" fill="none"/>
<path d="M203.60,197.70V142.78" stroke="#0000ff" stroke-width="2.60" stroke-linecap="round" fill="none"/>
<path d="M202.90,197.03V160.05" stroke="#0000ff" stroke-width="2.60" stroke-linecap="round" fill="none"/>
<path d="M205.00,199.58V177.32" stroke="#0000ff" stroke-width="2.60" stroke-linecap="round" fill="none"/>
<path d="M209.10,204.58V188.07" stroke="#0000ff" stroke-width="2.60" stroke-linecap="round" fill="none"/>
<path d="M203.60,118.21h0M203.60,125.89h0M203.60,132.80h0M203.60,134.53h0M203.60,136.64h0M203.60,139.90h0" stroke="#0000ff" stroke-width="2.60" stroke-linecap="round" fill="none"/>
<path d="M209.82,215.70V201.76M210.62,215.70V199.59M211.42,215.70V201.34M212.22,215.70V202.34M213.02,215.70V202.53M213.82,215.70V203.07M214.62,215.70V194.41M215.42,215.70V204.23" stroke="#ff0000" stroke-width="2.60" stroke-linecap="round" fill="none"/>
<path d="M209.10,204.58V188.07" stroke="#ff0000" stroke-width="2.60" stroke-linecap="round" fill="none"/>
<path d="M214.40,202.27V190.75" stroke="#ff0000" stroke-width="2.60" stroke-linecap="round" fill="none"/>
<path d="M217.18,215.70V203.96M217.98,215.70V209.40M218.78,215.70V206.18M219.58,215.70V208.66M220.38,215.70V207.92M221.18,215.70V206.89M221.98,215.70V204.79M222.78,215.70V201.78M223.58,215.70V198.87M224.38,215.70V204.04M225.18,215.70V205.20" stroke="#0000ff" stroke-width="2.60" stroke-linecap="round" fill="none"/>
<path d="M219.00,208.18V194.59" stroke="#0000ff" stroke-width="2.60" stroke-linecap="round" fill="none"/>
<path d="M223.10,204.21V190.75" stroke="#0000ff" stroke-width="2.60" stroke-linecap="round" fill="none"/>
<path d="M226.53,215.70V203.93M227.33,215.70V205.86M228.13,215.70V208.00M228.93,215.70V202.43M229.73,215.70V200.67M230.53,215.70V204.68M231.33,215.70V199.72M232.13,215.70V202.47M232.93,215.70V201.02M233.73,215.70V198.97M234.53,215.70V199.30" stroke="#ff0000" stroke-width="2.60" stroke-linecap="round" fill="none"/>
<path d="M232.10,183.65V177.90" stroke="#ff0000" stroke-width="2.60" stroke-linecap="round" fill="none"/>
<path d="M232.27,193.62h0M231.97,190.25h0M232.35,189.46h0" stroke="#ff0000" stroke-width="2.60" stroke-linecap="round" fill="none"/>
<path d="M236.35,215.70V202.62M237.15,215.70V201.34M237.95,215.70V200.36M238.75,215.70V194.57M239.55,215.70V195.68M240.35,215.70V192.93M241.15,215.70V195.43M241.95,215.70V201.25" stroke="#0000ff" stroke-width="2.60" stroke-linecap="round" fill="none"/>
<path d="M242.40,179.24V171.56" stroke="#0000ff" stroke-width="2.60" stroke-linecap="round" fill="none"/>
<path d="M242.59,192.79h0M242.65,181.70h0M242.50,181.62h0" stroke="#0000ff" stroke-width="2.60" stroke-linecap="round" fill="none"/>
<path d="M238.50,198.24V186.91" stroke="#0000ff" stroke-width="2.60" stroke-linecap="round" fill="none"/>
<path d="M243.76,215.70V202.73M244.56,215.70V200.06M245.36,215.70V199.47M246.16,215.70V196.66M246.96,215.70V198.90M247.76,215.70V194.72M248.56,215.70V200.33M249.36,215.70V199.42M250.16,215.70V197.91M250.96,215.70V199.53M251.76,215.70V202.55" stroke="#ff0000" stroke-width="2.60" stroke-linecap="round" fill="none"/>
<path d="M244.20,183.08V177.32" stroke="#ff0000" stroke-width="2.60" stroke-linecap="round" fill="none"/>
<path d="M244.11,187.16h0M244.47,185.29h0M244.39,183.53h0" stroke="#ff0000" stroke-width="2.60" stroke-linecap="round" fill="none"/>
<path d="M249.00,200.25V190.18" stroke="#ff0000" stroke-width="2.60" stroke-linecap="round" fill="none"/>
<path d="M253.32,215.70V194.35M254.12,215.70V207.78M254.92,215.70V205.64M255.72,215.70V205.63M256.52,215.70V202.93M257.32,215.70V204.48M258.12,215.70V204.48M258.92,215.70V200.98M259.72,215.70V198.68M260.52,215.70V201.80" stroke="#0000ff" stroke-width="2.60" stroke-linecap="round" fill="none"/>
<path d="M258.80,184.04V178.28" stroke="#0000ff" stroke-width="2.60" stroke-linecap="round" fill="none"/>
<path d="M258.99,193.58h0M258.78,192.13h0M258.66,184.21h0" stroke="#0000ff" stroke-width="2.60" stroke-linecap="round" fill="none"/>
<path d="M261.79,215.70V204.39M262.59,215.70V192.39M263.39,215.70V188.82M264.19,215.70V191.60M264.99,215.70V197.17M265.79,215.70V192.03M266.59,215.70V198.52M267.39,215.70V197.37M268.19,215.70V194.86M268.99,215.70V197.61" stroke="#ff0000" stroke-width="2.60" stroke-linecap="round" fill="none"/>
<path d="M268.60,198.88V175.02" stroke="#ff0000" stroke-width="2.60" stroke-linecap="round" fill="none"/>
<path d="M263.50,198.24V186.15" stroke="#ff0000" stroke-width="2.60" stroke-linecap="round" fill="none"/>
<path d="M270.34,215.70V199.72M271.14,215.70V198.18M271.94,215.70V203.00M272.74,215.70V196.21M273.54,215.70V201.58M274.34,215.70V201.73M275.14,215.70V201.41M275.94,215.70V194.18M276.74,215.70V198.81" stroke="#0000ff" stroke-width="2.60" stroke-linecap="round" fill="none"/>
<path d="M273.20,199.71V181.16" stroke="#0000ff" stroke-width="2.60" stroke-linecap="round" fill="none"/>
<path d="M278.44,215.70V199.60M279.24,215.70V203.46M280.04,215.70V197.05M280.84,215.70V199.10M281.64,215.70V198.75M282.44,215.70V194.57M283.24,215.70V199.05M284.04,215.70V197.18" stroke="#ff0000" stroke-width="2.60" stroke-linecap="round" fill="none"/>
<path d="M278.20,177.51V169.84" stroke="#ff0000" stroke-width="2.60" stroke-linecap="round" fill="none"/>
<path d="M278.15,196.34h0M278.18,194.04h0M278.38,193.69h0M278.29,191.12h0M278.24,187.95h0" stroke="#ff0000" stroke-width="2.60" stroke-linecap="round" fill="none"/>
<path d="M285.10,200.59V185.00" stroke="#ff0000" stroke-width="2.60" stroke-linecap="round" fill="none"/>
<path d="M285.59,215.70V193.66M286.39,215.70V202.13M287.19,215.70V201.82M287.99,215.70V198.01M288.79,215.70V201.05M289.59,215.70V197.36M290.39,215.70V198.57" stroke="#0000ff" stroke-width="2.60" stroke-linecap="round" fill="none"/>
<path d="M285.10,200.59V185.00" stroke="#0000ff" stroke-width="2.60" stroke-linecap="round" fill="none"/>
<path d="M291.64,215.70V205.30M292.44,215.70V202.22M293.24,215.70V202.20M294.04,215.70V202.14M294.84,215.70V196.41M295.64,215.70V196.32M296.44,215.70V203.15" stroke="#ff0000" stroke-width="2.60" stroke-linecap="round" fill="none"/>
<path d="M293.40,170.22V162.54" stroke="#ff0000" stroke-width="2.60" stroke-linecap="round" fill="none"/>
<path d="M293.43,194.96h0M293.66,194.69h0M293.10,190.40h0M293.20,188.98h0M293.53,177.35h0M293.34,172.70h0" stroke="#ff0000" stroke-width="2.60" stroke-linecap="round" fill="none"/>
<path d="M296.20,202.58V191.52" stroke="#ff0000" stroke-width="2.60" stroke-linecap="round" fill="none"/>
<path d="M297.56,215.70V204.44M298.36,215.70V200.59M299.16,215.70V205.39M299.96,215.70V201.26M300.76,215.70V199.66M301.56,215.70V202.24M302.36,215.70V203.80" stroke="#0000ff" stroke-width="2.60" stroke-linecap="round" fill="none"/>
<path d="M299.10,182.69V173.10" stroke="#0000ff" stroke-width="2.60" stroke-linecap="round" fill="none"/>
<path d="M299.28,196.19h0M299.33,189.61h0M299.34,187.82h0M299.34,186.30h0" stroke="#0000ff" stroke-width="2.60" stroke-linecap="round" fill="none"/>
<path d="M303.57,215.70V209.20M304.37,215.70V206.14M305.17,215.70V203.80M305.97,215.70V197.65M306.77,215.70V201.05M307.57,215.70V201.32M308.37,215.70V202.77M309.17,215.70V201.32" stroke="#ff0000" stroke-width="2.60" stroke-linecap="round" fill="none"/>
<path d="M310.93,215.70V200.03M311.73,215.70V204.76M312.53,215.70V203.28M313.33,215.70V201.93M314.13,215.70V200.49" stroke="#0000ff" stroke-width="2.60" stroke-linecap="round" fill="none"/>
<path d="M315.89,215.70V205.02M316.69,215.70V205.93M317.49,215.70V210.00M318.29,215.70V209.13M319.09,215.70V208.17M319.89,215.70V207.45" stroke="#ff0000" stroke-width="2.60" stroke-linecap="round" fill="none"/>
<path d="M317.50,194.02V188.26" stroke="#ff0000" stroke-width="2.60" stroke-linecap="round" fill="none"/>
<path d="M317.61,205.57h0M317.45,196.80h0M317.22,195.71h0" stroke="#ff0000" stroke-width="2.60" stroke-linecap="round" fill="none"/>
<path d="M321.26,215.70V209.49M322.06,215.70V200.70M322.86,215.70V203.77M323.66,215.70V199.84M324.46,215.70V200.09M325.26,215.70V195.87" stroke="#0000ff" stroke-width="2.60" stroke-linecap="round" fill="none"/>
<path d="M323.20,201.73V188.26" stroke="#0000ff" stroke-width="2.60" stroke-linecap="round" fill="none"/>
<path d="M378.55,205.93V172.91M379.35,201.40V174.59M380.15,203.15V162.49M380.95,206.54V178.56M381.75,205.82V168.03M382.55,203.46V179.31M383.35,204.53V172.30M384.15,204.61V174.37M384.95,200.14V174.46M385.75,204.86V183.94M386.55,205.24V180.35M387.35,200.76V177.25M388.15,205.47V176.64M388.95,204.21V181.01M389.75,207.20V190.10M390.55,209.33V181.12M391.35,206.63V182.79M392.15,206.83V189.13M392.95,207.55V187.81M393.75,205.60V188.19M394.55,205.43V185.22M395.35,205.79V185.67M396.15,206.56V186.91M396.95,207.52V187.95M397.75,209.90V190.48M398.55,206.51V184.90M399.35,205.40V181.20M400.15,208.29V180.96M400.95,207.13V185.15M401.75,208.17V192.68M402.55,209.50V193.65M403.35,207.06V193.78M404.15,210.35V187.13M404.95,209.90V192.00M405.75,207.71V190.13M406.55,208.97V187.23M407.35,210.12V191.64M408.15,212.46V195.44M408.95,215.70V194.51M409.75,215.70V203.83" stroke="#ff0000" stroke-width="2.60" stroke-linecap="round" fill="none"/>
<path d="M380.00,159.50V155.66" stroke="#ff0000" stroke-width="2.60" stroke-linecap="round" fill="none"/>
<path d="M409.60,215.70h0M409.60,214.16h0" stroke="#ff0000" stroke-width="2.60" stroke-linecap="round" fill="none"/>
<path d="M411.14,201.04V179.86M411.94,206.90V171.51M412.74,198.88V159.37M413.54,207.38V173.39M414.34,207.73V168.46M415.14,207.17V187.23M415.94,200.02V182.38M416.74,205.47V189.97M417.54,204.88V186.22M418.34,203.78V189.66M419.14,206.86V187.98M419.94,204.46V181.60M420.74,203.05V176.98M421.54,200.61V161.36M422.34,207.59V176.58M423.14,203.46V162.22M423.94,207.55V174.93M424.74,207.82V170.31M425.54,206.94V173.95M426.34,207.46V186.26M427.14,206.59V176.00M427.94,210.85V182.91M428.74,208.29V179.21M429.54,209.12V170.64M430.34,207.32V177.65M431.14,207.47V182.01M431.94,206.60V180.30M432.74,206.63V189.15M433.54,207.04V182.92M434.34,207.85V188.57M435.14,208.64V187.87M435.94,210.76V192.58M436.74,206.92V185.50M437.54,210.28V193.68M438.34,210.23V190.27M439.14,213.69V191.75" stroke="#0000ff" stroke-width="2.60" stroke-linecap="round" fill="none"/>
<path d="M412.00,159.59V153.82" stroke="#0000ff" stroke-width="2.60" stroke-linecap="round" fill="none"/>
<path d="M424.20,160.81V155.05" stroke="#0000ff" stroke-width="2.60" stroke-linecap="round" fill="none"/>
<path d="M421.00,179.24V163.61" stroke="#0000ff" stroke-width="2.60" stroke-linecap="round" fill="none"/>
<path d="M439.50,215.70h0M439.50,214.16h0" stroke="#0000ff" stroke-width="2.60" stroke-linecap="round" fill="none"/>
<path d="M440.60,198.73V179.27M441.40,201.48V181.68M442.20,200.96V187.26M443.00,203.02V184.41M443.80,201.61V185.21M444.60,199.21V189.99M445.40,205.90V188.33M446.20,204.69V178.36M447.00,203.65V178.17M447.80,201.72V181.61M448.60,206.97V180.40M449.40,206.70V178.55M450.20,201.88V185.84M451.00,205.07V181.07M451.80,205.25V177.04M452.60,203.46V176.68M453.40,208.05V186.69M454.20,208.39V176.05M455.00,201.80V185.55M455.80,203.07V175.82M456.60,202.20V181.50M457.40,203.62V181.78M458.20,210.04V173.60M459.00,210.23V173.71M459.80,208.87V176.94M460.60,205.44V181.31M461.40,207.82V181.33M462.20,209.39V180.91M463.00,209.69V176.72M463.80,210.23V187.10M464.60,211.13V187.97M465.40,213.28V185.62" stroke="#ff0000" stroke-width="2.60" stroke-linecap="round" fill="none"/>
<path d="M440.30,182.66V167.89" stroke="#ff0000" stroke-width="2.60" stroke-linecap="round" fill="none"/>
<path d="M459.90,182.66V167.28" stroke="#ff0000" stroke-width="2.60" stroke-linecap="round" fill="none"/>
<path d="M448.20,184.37V170.34" stroke="#ff0000" stroke-width="2.60" stroke-linecap="round" fill="none"/>
<path d="M465.60,215.70h0" stroke="#ff0000" stroke-width="2.60" stroke-linecap="round" fill="none"/>
<path d="M467.10,207.58V189.95M467.90,202.42V171.81M468.70,207.62V184.11M469.50,205.69V177.41M470.30,201.60V172.84M471.10,201.61V183.60M471.90,204.47V183.72M472.70,207.17V191.22M473.50,207.63V190.33M474.30,208.23V193.54M475.10,208.55V187.84M475.90,205.25V190.59M476.70,205.01V188.47M477.50,204.03V183.43M478.30,209.07V187.38M479.10,211.18V185.43M479.90,211.51V197.66" stroke="#0000ff" stroke-width="2.60" stroke-linecap="round" fill="none"/>
<path d="M468.40,183.95V169.72" stroke="#0000ff" stroke-width="2.60" stroke-linecap="round" fill="none"/>
<path d="M479.90,214.55h0" stroke="#0000ff" stroke-width="2.60" stroke-linecap="round" fill="none"/>
<path d="M481.20,205.97V178.27M482.00,206.61V174.73M482.80,201.32V173.04M483.60,205.80V177.56M484.40,205.88V175.21M485.20,207.60V185.34M486.00,205.43V188.16M486.80,202.02V189.02M487.60,205.61V192.85M488.40,201.88V188.79M489.20,202.70V190.07M490.00,208.18V190.54M490.80,204.13V183.94M491.60,208.51V184.53M492.40,212.16V189.90" stroke="#ff0000" stroke-width="2.60" stroke-linecap="round" fill="none"/>
<path d="M481.30,162.20V152.60" stroke="#ff0000" stroke-width="2.60" stroke-linecap="round" fill="none"/>
<path d="M482.50,179.24V161.16" stroke="#ff0000" stroke-width="2.60" stroke-linecap="round" fill="none"/>
<path d="M492.60,215.12h0" stroke="#ff0000" stroke-width="2.60" stroke-linecap="round" fill="none"/>
<path d="M493.96,205.97V177.93M494.76,206.26V169.43M495.56,205.60V168.16M496.36,207.18V177.69M497.16,204.44V171.03M497.96,205.25V173.19M498.76,207.50V177.85M499.56,202.13V182.53M500.36,207.86V185.81M501.16,209.53V191.05M501.96,205.88V187.09M502.76,208.32V188.85M503.56,206.36V182.42M504.36,205.30V173.85M505.16,207.75V180.44M505.96,207.39V188.33" stroke="#0000ff" stroke-width="2.60" stroke-linecap="round" fill="none"/>
<path d="M496.80,119.48V114.68" stroke="#0000ff" stroke-width="2.60" stroke-linecap="round" fill="none"/>
<path d="M496.97,146.27h0M496.58,144.63h0M496.99,141.41h0M497.05,137.50h0M496.99,133.15h0M496.71,121.79h0" stroke="#0000ff" stroke-width="2.60" stroke-linecap="round" fill="none"/>
<path d="M496.90,182.45V142.81" stroke="#0000ff" stroke-width="2.60" stroke-linecap="round" fill="none"/>
<path d="M498.40,179.24V162.39" stroke="#0000ff" stroke-width="2.60" stroke-linecap="round" fill="none"/>
<path d="M493.80,183.44V169.72" stroke="#0000ff" stroke-width="2.60" stroke-linecap="round" fill="none"/>
<path d="M506.30,215.70h0" stroke="#0000ff" stroke-width="2.60" stroke-linecap="round" fill="none"/>
<path d="M507.79,206.98V184.91M508.59,209.08V182.51M509.39,203.74V177.93M510.19,205.00V178.71M510.99,205.03V188.92M511.79,204.06V189.33M512.59,206.65V191.30M513.39,210.62V186.75M514.19,210.54V184.13M514.99,209.03V186.45M515.79,210.82V193.61M516.59,207.71V199.54M517.39,209.92V202.49M518.19,214.13V203.20" stroke="#ff0000" stroke-width="2.60" stroke-linecap="round" fill="none"/>
<path d="M509.80,188.23V174.62" stroke="#ff0000" stroke-width="2.60" stroke-linecap="round" fill="none"/>
<path d="M518.20,215.70h0" stroke="#ff0000" stroke-width="2.60" stroke-linecap="round" fill="none"/>
<path d="M519.62,196.96V179.09M520.42,202.23V173.73M521.22,195.80V179.72M522.02,201.05V180.79M522.82,199.78V186.17M523.62,197.08V185.95M524.42,199.67V182.68M525.22,202.83V182.48M526.02,203.80V182.88M526.82,204.63V191.44M527.62,210.40V187.74M528.42,211.91V197.18M529.22,215.70V193.35" stroke="#0000ff" stroke-width="2.60" stroke-linecap="round" fill="none"/>
<path d="M519.60,167.27V153.82" stroke="#0000ff" stroke-width="2.60" stroke-linecap="round" fill="none"/>
<path d="M529.20,215.70h0" stroke="#0000ff" stroke-width="2.60" stroke-linecap="round" fill="none"/>
<path d="M530.34,199.65V178.64M531.14,203.46V183.86M531.94,199.46V183.73M532.74,202.50V193.80M533.54,206.18V196.16M534.34,200.50V192.48M535.14,207.78V191.38M535.94,208.44V190.06M536.74,204.68V182.89M537.54,209.46V178.61M538.34,209.37V182.46M539.14,210.42V176.38M539.94,212.79V183.02" stroke="#ff0000" stroke-width="2.60" stroke-linecap="round" fill="none"/>
<path d="M530.60,186.09V163.00" stroke="#ff0000" stroke-width="2.60" stroke-linecap="round" fill="none"/>
<path d="M538.20,187.80V164.83" stroke="#ff0000" stroke-width="2.60" stroke-linecap="round" fill="none"/>
<path d="M540.30,215.12h0" stroke="#ff0000" stroke-width="2.60" stroke-linecap="round" fill="none"/>
<path d="M541.53,202.68V177.69M542.33,207.13V178.82M543.13,199.93V175.35M543.93,206.61V183.54M544.73,205.75V168.67M545.53,208.34V181.83M546.33,203.74V165.43M547.13,205.97V172.01M547.93,209.26V186.41M548.73,210.38V194.12M549.53,212.49V197.86M550.33,215.70V191.15" stroke="#0000ff" stroke-width="2.60" stroke-linecap="round" fill="none"/>
<path d="M543.80,144.99V137.31" stroke="#0000ff" stroke-width="2.60" stroke-linecap="round" fill="none"/>
<path d="M544.00,166.29h0M543.72,163.96h0M543.66,153.27h0" stroke="#0000ff" stroke-width="2.60" stroke-linecap="round" fill="none"/>
<path d="M545.30,179.24V158.72" stroke="#0000ff" stroke-width="2.60" stroke-linecap="round" fill="none"/>
<path d="M547.10,180.95V161.16" stroke="#0000ff" stroke-width="2.60" stroke-linecap="round" fill="none"/>
<path d="M543.60,183.04V157.49" stroke="#0000ff" stroke-width="2.60" stroke-linecap="round" fill="none"/>
<path d="M551.40,177.52V158.72" stroke="#0000ff" stroke-width="2.60" stroke-linecap="round" fill="none"/>
<path d="M550.40,215.70h0" stroke="#0000ff" stroke-width="2.60" stroke-linecap="round" fill="none"/>
<path d="M551.76,204.82V166.50M552.56,198.57V163.49M553.36,203.15V166.21M554.16,195.63V165.78M554.96,196.56V173.43M555.76,206.51V173.86M556.56,209.50V188.70M557.36,211.24V191.93" stroke="#ff0000" stroke-width="2.60" stroke-linecap="round" fill="none"/>
<path d="M553.80,179.24V148.93" stroke="#ff0000" stroke-width="2.60" stroke-linecap="round" fill="none"/>
<path d="M551.40,177.52V158.72" stroke="#ff0000" stroke-width="2.60" stroke-linecap="round" fill="none"/>
<path d="M557.90,215.12h0" stroke="#ff0000" stroke-width="2.60" stroke-linecap="round" fill="none"/>
<path d="M559.13,207.53V179.95M559.93,209.18V182.41M560.73,204.30V191.44M561.53,207.70V184.15M562.33,205.88V187.26M563.13,205.57V184.24M563.93,209.75V181.05M564.73,208.44V177.85M565.53,209.09V192.52M566.33,211.75V193.52M567.13,215.70V192.63" stroke="#0000ff" stroke-width="2.60" stroke-linecap="round" fill="none"/>
<path d="M564.20,186.09V160.55" stroke="#0000ff" stroke-width="2.60" stroke-linecap="round" fill="none"/>
<path d="M567.00,215.12h0" stroke="#0000ff" stroke-width="2.60" stroke-linecap="round" fill="none"/>
<path d="M568.49,210.86V184.98M569.29,207.14V186.56M570.09,211.00V179.18M570.89,206.62V192.91M571.69,206.49V188.13M572.49,208.50V185.05M573.29,209.41V175.44M574.09,208.82V177.30M574.89,210.05V181.12M575.69,211.63V190.76M576.49,213.03V198.12" stroke="#ff0000" stroke-width="2.60" stroke-linecap="round" fill="none"/>
<path d="M569.10,184.37V167.89" stroke="#ff0000" stroke-width="2.60" stroke-linecap="round" fill="none"/>
<path d="M573.40,186.94V171.56" stroke="#ff0000" stroke-width="2.60" stroke-linecap="round" fill="none"/>
<path d="M577.20,215.70h0" stroke="#ff0000" stroke-width="2.60" stroke-linecap="round" fill="none"/>
<path d="M578.32,196.31V177.15M579.12,194.30V170.30M579.92,196.99V156.08M580.72,198.90V172.70M581.52,195.81V171.86M582.32,201.79V176.88M583.12,195.35V184.31M583.92,207.65V184.01" stroke="#0000ff" stroke-width="2.60" stroke-linecap="round" fill="none"/>
<path d="M581.30,146.83V139.14" stroke="#0000ff" stroke-width="2.60" stroke-linecap="round" fill="none"/>
<path d="M581.36,155.42h0M581.05,147.72h0" stroke="#0000ff" stroke-width="2.60" stroke-linecap="round" fill="none"/>
<path d="M578.60,173.24V150.15" stroke="#0000ff" stroke-width="2.60" stroke-linecap="round" fill="none"/>
<path d="M584.60,215.70h0" stroke="#0000ff" stroke-width="2.60" stroke-linecap="round" fill="none"/>
<path d="M585.74,207.40V189.68M586.54,205.09V179.41M587.34,207.72V189.70M588.14,206.96V183.56M588.94,205.29V182.67M589.74,207.47V173.56M590.54,205.38V169.46M591.34,209.74V180.43M592.14,209.09V177.07M592.94,209.33V185.26M593.74,213.76V186.14" stroke="#ff0000" stroke-width="2.60" stroke-linecap="round" fill="none"/>
<path d="M590.60,148.31V134.86" stroke="#ff0000" stroke-width="2.60" stroke-linecap="round" fill="none"/>
<path d="M590.65,152.82h0M590.49,150.41h0M590.43,148.97h0" stroke="#ff0000" stroke-width="2.60" stroke-linecap="round" fill="none"/>
<path d="M590.80,183.35V157.49" stroke="#ff0000" stroke-width="2.60" stroke-linecap="round" fill="none"/>
<path d="M594.00,215.70h0" stroke="#ff0000" stroke-width="2.60" stroke-linecap="round" fill="none"/>
<path d="M595.31,197.58V164.12M596.11,199.30V156.20M596.91,200.86V158.44M597.71,198.67V173.25M598.51,199.80V169.44M599.31,203.83V168.85M600.11,200.58V183.57M600.91,208.35V190.89M601.71,208.33V191.69M602.51,213.42V191.41" stroke="#0000ff" stroke-width="2.60" stroke-linecap="round" fill="none"/>
<path d="M595.70,170.67V146.48" stroke="#0000ff" stroke-width="2.60" stroke-linecap="round" fill="none"/>
<path d="M598.70,139.49V131.80" stroke="#0000ff" stroke-width="2.60" stroke-linecap="round" fill="none"/>
<path d="M598.62,164.54h0M598.49,160.44h0M598.97,159.21h0M598.71,145.75h0" stroke="#0000ff" stroke-width="2.60" stroke-linecap="round" fill="none"/>
<path d="M598.80,181.34V148.93" stroke="#0000ff" stroke-width="2.60" stroke-linecap="round" fill="none"/>
<path d="M602.40,215.12h0" stroke="#0000ff" stroke-width="2.60" stroke-linecap="round" fill="none"/>
<path d="M603.79,209.01V184.70M604.59,204.92V189.74M605.39,208.48V187.41M606.19,208.80V184.15M606.99,204.40V186.18M607.79,204.28V184.23M608.59,206.30V184.46M609.39,210.60V184.13M610.19,210.53V188.18M610.99,214.44V182.22" stroke="#ff0000" stroke-width="2.60" stroke-linecap="round" fill="none"/>
<path d="M610.40,153.56V145.87" stroke="#ff0000" stroke-width="2.60" stroke-linecap="round" fill="none"/>
<path d="M610.21,173.39h0M610.22,162.71h0M610.66,155.97h0" stroke="#ff0000" stroke-width="2.60" stroke-linecap="round" fill="none"/>
<path d="M611.20,215.70h0" stroke="#ff0000" stroke-width="2.60" stroke-linecap="round" fill="none"/>
<path d="M612.35,200.85V169.19M613.15,204.57V172.31M613.95,201.23V181.08M614.75,203.00V183.86M615.55,202.34V182.48M616.35,203.81V169.90M617.15,203.79V178.69M617.95,209.30V182.45M618.75,208.27V184.97" stroke="#0000ff" stroke-width="2.60" stroke-linecap="round" fill="none"/>
<path d="M612.20,180.95V162.39" stroke="#0000ff" stroke-width="2.60" stroke-linecap="round" fill="none"/>
<path d="M616.50,131.62V122.02" stroke="#0000ff" stroke-width="2.60" stroke-linecap="round" fill="none"/>
<path d="M616.26,148.79h0M616.23,140.12h0M616.67,134.14h0M616.60,134.07h0" stroke="#0000ff" stroke-width="2.60" stroke-linecap="round" fill="none"/>
<path d="M616.60,183.28V156.27" stroke="#0000ff" stroke-width="2.60" stroke-linecap="round" fill="none"/>
<path d="M620.47,203.09V178.09M621.27,206.13V170.87M622.07,205.36V175.58M622.87,206.80V181.57M623.67,203.67V184.21M624.47,206.91V177.28M625.27,209.00V176.48M626.07,207.68V181.62" stroke="#ff0000" stroke-width="2.60" stroke-linecap="round" fill="none"/>
<path d="M620.60,179.24V153.82" stroke="#ff0000" stroke-width="2.60" stroke-linecap="round" fill="none"/>
<path d="M625.50,182.66V163.00" stroke="#ff0000" stroke-width="2.60" stroke-linecap="round" fill="none"/>
<path d="M626.90,212.82h0" stroke="#ff0000" stroke-width="2.60" stroke-linecap="round" fill="none"/>
<path d="M627.62,202.61V189.39M628.42,203.29V185.42M629.22,201.88V186.63M630.02,204.97V192.32M630.82,199.21V189.29M631.62,209.70V195.18M632.42,213.49V198.64" stroke="#0000ff" stroke-width="2.60" stroke-linecap="round" fill="none"/>
<path d="M626.90,212.82h0" stroke="#0000ff" stroke-width="2.60" stroke-linecap="round" fill="none"/>
<path d="M632.40,215.70h0" stroke="#0000ff" stroke-width="2.60" stroke-linecap="round" fill="none"/>
<path d="M633.68,203.44V182.34M634.48,204.88V178.56M635.28,208.37V171.69M636.08,203.77V185.34M636.88,205.63V182.80M637.68,208.05V187.78M638.48,215.70V193.89" stroke="#ff0000" stroke-width="2.60" stroke-linecap="round" fill="none"/>
<path d="M635.30,185.23V169.11" stroke="#ff0000" stroke-width="2.60" stroke-linecap="round" fill="none"/>
<path d="M638.40,214.93h0" stroke="#ff0000" stroke-width="2.60" stroke-linecap="round" fill="none"/>
<path d="M639.61,200.81V182.29M640.41,205.88V183.28M641.21,205.39V174.31M642.01,201.54V182.12M642.81,201.68V184.55M643.61,209.19V195.60M644.41,212.17V196.91" stroke="#0000ff" stroke-width="2.60" stroke-linecap="round" fill="none"/>
<path d="M641.10,169.19V153.82" stroke="#0000ff" stroke-width="2.60" stroke-linecap="round" fill="none"/>
<path d="M644.60,214.93h0" stroke="#0000ff" stroke-width="2.60" stroke-linecap="round" fill="none"/>
<path d="M645.62,204.52V174.39M646.42,197.42V179.73M647.22,202.99V170.78M648.02,206.02V181.97M648.82,200.98V175.11M649.62,205.85V184.85M650.42,201.18V185.63M651.22,205.24V185.89" stroke="#ff0000" stroke-width="2.60" stroke-linecap="round" fill="none"/>
<path d="M652.00,213.39h0" stroke="#ff0000" stroke-width="2.60" stroke-linecap="round" fill="none"/>
<path d="M652.99,193.84V180.42M653.79,202.16V176.63M654.59,206.18V180.04M655.39,206.29V164.20M656.19,211.60V186.53" stroke="#0000ff" stroke-width="2.60" stroke-linecap="round" fill="none"/>
<path d="M654.30,180.09V163.00" stroke="#0000ff" stroke-width="2.60" stroke-linecap="round" fill="none"/>
<path d="M656.80,214.55h0" stroke="#0000ff" stroke-width="2.60" stroke-linecap="round" fill="none"/>
<path d="M657.96,202.40V183.50M658.76,207.59V183.96M659.56,200.15V183.62M660.36,202.19V184.73M661.16,201.09V186.02M661.96,208.82V193.19" stroke="#ff0000" stroke-width="2.60" stroke-linecap="round" fill="none"/>
<path d="M658.60,158.71V145.26" stroke="#ff0000" stroke-width="2.60" stroke-linecap="round" fill="none"/>
<path d="M658.45,166.21h0M658.48,166.20h0" stroke="#ff0000" stroke-width="2.60" stroke-linecap="round" fill="none"/>
<path d="M663.33,202.56V187.30M664.13,207.12V186.02M664.93,199.71V176.36M665.73,204.96V185.24M666.53,208.30V185.13M667.33,213.04V172.11" stroke="#0000ff" stroke-width="2.60" stroke-linecap="round" fill="none"/>
<path d="M667.10,183.52V167.89" stroke="#0000ff" stroke-width="2.60" stroke-linecap="round" fill="none"/>
<path d="M667.60,214.93h0" stroke="#0000ff" stroke-width="2.60" stroke-linecap="round" fill="none"/>
<path d="M36.95,462.74V437.48M37.75,456.71V431.60M38.55,459.40V433.73M39.35,457.18V436.48M40.15,455.71V436.58M40.95,457.69V432.47M41.75,457.46V431.63M42.55,455.69V427.44M43.35,458.30V430.98M44.15,455.93V434.68M44.95,459.93V427.04M45.75,458.22V434.94M46.55,454.80V431.37M47.35,457.22V429.47M48.15,459.77V429.76M48.95,457.78V435.53M49.75,456.13V423.05M50.55,458.75V427.14M51.35,458.22V425.57M52.15,455.78V432.09M52.95,455.16V426.48M53.75,456.00V424.48M54.55,457.47V425.31M55.35,454.88V433.30M56.15,455.04V429.74M56.95,457.18V433.41M57.75,455.91V431.27M58.55,454.92V432.53M59.35,456.70V432.78M60.15,456.41V436.30M60.95,458.90V430.92M61.75,455.60V432.64M62.55,454.63V436.13M63.35,456.97V437.14M64.15,459.98V432.45M64.95,459.37V428.28M65.75,456.88V430.46M66.55,460.15V436.99M67.35,459.98V440.19M68.15,460.21V431.49" stroke="#ff0000" stroke-width="2.60" stroke-linecap="round" fill="none"/>
<path d="M49.60,405.93V394.69" stroke="#ff0000" stroke-width="2.60" stroke-linecap="round" fill="none"/>
<path d="M49.88,421.79h0M49.72,418.70h0M49.43,415.14h0M49.63,408.66h0" stroke="#ff0000" stroke-width="2.60" stroke-linecap="round" fill="none"/>
<path d="M51.40,436.46V399.75" stroke="#ff0000" stroke-width="2.60" stroke-linecap="round" fill="none"/>
<path d="M54.10,436.46V407.24" stroke="#ff0000" stroke-width="2.60" stroke-linecap="round" fill="none"/>
<path d="M57.70,403.12V393.75" stroke="#ff0000" stroke-width="2.60" stroke-linecap="round" fill="none"/>
<path d="M57.80,423.01h0M57.80,416.37h0M57.71,411.72h0M57.73,409.83h0M57.52,409.28h0" stroke="#ff0000" stroke-width="2.60" stroke-linecap="round" fill="none"/>
<path d="M48.50,438.49V409.11" stroke="#ff0000" stroke-width="2.60" stroke-linecap="round" fill="none"/>
<path d="M69.49,458.95V439.52M70.29,459.02V435.03M71.09,457.71V436.35M71.89,461.07V435.39M72.69,460.25V432.83M73.49,459.43V434.48M74.29,457.11V430.73M75.09,459.61V431.36M75.89,459.02V435.83M76.69,458.72V426.37M77.49,458.65V427.79M78.29,456.94V424.22M79.09,457.84V422.34M79.89,457.50V428.98M80.69,459.01V427.29M81.49,459.99V423.01M82.29,459.74V421.45M83.09,458.56V429.19M83.89,459.19V427.97M84.69,458.01V435.70M85.49,460.41V430.94M86.29,459.36V426.54M87.09,459.68V431.46M87.89,457.01V431.41M88.69,460.51V433.07M89.49,459.65V434.96M90.29,458.77V425.42M91.09,460.60V429.55M91.89,458.18V418.93M92.69,456.70V429.12M93.49,458.77V423.90M94.29,460.92V433.60M95.09,460.39V434.00M95.89,458.99V438.61" stroke="#0000ff" stroke-width="2.60" stroke-linecap="round" fill="none"/>
<path d="M79.60,433.83V407.99" stroke="#0000ff" stroke-width="2.60" stroke-linecap="round" fill="none"/>
<path d="M83.20,391.32V385.70" stroke="#0000ff" stroke-width="2.60" stroke-linecap="round" fill="none"/>
<path d="M83.14,416.38h0M83.06,414.98h0M83.32,410.62h0M83.08,406.09h0M83.12,399.68h0M83.36,395.18h0" stroke="#0000ff" stroke-width="2.60" stroke-linecap="round" fill="none"/>
<path d="M87.10,434.62V421.47" stroke="#0000ff" stroke-width="2.60" stroke-linecap="round" fill="none"/>
<path d="M92.50,431.34V416.79" stroke="#0000ff" stroke-width="2.60" stroke-linecap="round" fill="none"/>
<path d="M97.14,461.48V436.39M97.94,459.02V442.14M98.74,459.18V435.49M99.54,458.64V434.65M100.34,461.16V440.78M101.14,457.73V436.70M101.94,458.66V436.67M102.74,457.25V436.07M103.54,458.72V437.05M104.34,458.19V439.01M105.14,458.18V435.88M105.94,457.66V436.46M106.74,461.04V435.44M107.54,457.34V433.01M108.34,458.29V435.02M109.14,459.57V430.40M109.94,460.81V429.15M110.74,457.25V429.09M111.54,460.56V439.86M112.34,457.18V436.68M113.14,459.96V438.16M113.94,458.22V440.73M114.74,458.99V436.85M115.54,457.95V442.64M116.34,457.55V438.19M117.14,459.22V436.66M117.94,459.91V432.73M118.74,460.22V435.93M119.54,460.41V434.59M120.34,457.14V432.65M121.14,460.06V438.33M121.94,454.79V436.33" stroke="#ff0000" stroke-width="2.60" stroke-linecap="round" fill="none"/>
<path d="M105.40,443.01V425.03" stroke="#ff0000" stroke-width="2.60" stroke-linecap="round" fill="none"/>
<path d="M120.00,441.70V419.60" stroke="#ff0000" stroke-width="2.60" stroke-linecap="round" fill="none"/>
<path d="M104.00,443.42V429.71" stroke="#ff0000" stroke-width="2.60" stroke-linecap="round" fill="none"/>
<path d="M123.36,457.55V426.12M124.16,455.69V429.12M124.96,456.26V427.39M125.76,457.91V428.71M126.56,456.61V429.05M127.36,456.99V433.54M128.16,457.44V425.78M128.96,458.86V435.12M129.76,459.87V425.02M130.56,454.24V431.60M131.36,458.41V432.33M132.16,456.48V427.01M132.96,455.21V430.47M133.76,454.88V427.75M134.56,455.28V424.24M135.36,454.69V431.15" stroke="#0000ff" stroke-width="2.60" stroke-linecap="round" fill="none"/>
<path d="M130.70,436.46V414.73" stroke="#0000ff" stroke-width="2.60" stroke-linecap="round" fill="none"/>
<path d="M137.16,456.43V432.17M137.96,458.85V433.34M138.76,454.60V428.81M139.56,459.82V431.86M140.36,458.06V437.68M141.16,459.14V429.79M141.96,454.41V432.12M142.76,457.73V432.33M143.56,455.16V429.05M144.36,459.57V436.02M145.16,454.94V432.60M145.96,456.15V430.57M146.76,456.27V431.91M147.56,456.80V437.75M148.36,460.33V428.91" stroke="#ff0000" stroke-width="2.60" stroke-linecap="round" fill="none"/>
<path d="M149.62,461.11V433.05M150.42,457.23V437.85M151.22,460.94V437.07M152.02,459.69V436.40M152.82,459.26V429.79M153.62,460.63V428.38M154.42,460.96V427.12M155.22,459.68V428.60M156.02,461.15V431.42M156.82,458.14V427.42M157.62,457.57V433.13M158.42,461.80V429.39M159.22,462.39V428.52M160.02,460.67V437.89M160.82,460.88V435.17M161.62,462.22V438.57" stroke="#0000ff" stroke-width="2.60" stroke-linecap="round" fill="none"/>
<path d="M157.50,435.93V423.34" stroke="#0000ff" stroke-width="2.60" stroke-linecap="round" fill="none"/>
<path d="M163.05,461.39V433.41M163.85,460.03V427.03M164.65,459.46V423.99M165.45,461.39V428.90M166.25,461.93V429.24M167.05,460.37V422.22M167.85,461.35V430.41M168.65,459.70V423.29M169.45,462.01V437.94M170.25,459.81V432.73M171.05,460.88V430.13M171.85,459.77V436.66M172.65,451.42V430.45" stroke="#ff0000" stroke-width="2.60" stroke-linecap="round" fill="none"/>
<path d="M166.40,320.89V313.40" stroke="#ff0000" stroke-width="2.60" stroke-linecap="round" fill="none"/>
<path d="M166.50,387.38V370.53" stroke="#ff0000" stroke-width="2.60" stroke-linecap="round" fill="none"/>
<path d="M166.40,425.22V402.74" stroke="#ff0000" stroke-width="2.60" stroke-linecap="round" fill="none"/>
<path d="M166.40,333.07h0M166.40,342.06h0M166.40,343.74h0M166.40,345.62h0" stroke="#ff0000" stroke-width="2.60" stroke-linecap="round" fill="none"/>
<path d="M174.30,455.42V432.56M175.10,456.48V430.15M175.90,456.98V430.09M176.70,451.84V429.15M177.50,452.41V432.25M178.30,452.00V432.26M179.10,456.92V427.32M179.90,456.27V435.93M180.70,457.85V430.01M181.50,458.34V439.35M182.30,451.54V431.58M183.10,455.76V437.90M183.90,457.21V431.23" stroke="#0000ff" stroke-width="2.60" stroke-linecap="round" fill="none"/>
<path d="M178.40,436.46V419.79" stroke="#0000ff" stroke-width="2.60" stroke-linecap="round" fill="none"/>
<path d="M185.34,459.58V431.84M186.14,458.06V429.17M186.94,458.07V440.94M187.74,460.30V437.44M188.54,457.02V435.37M189.34,456.97V437.30M190.14,458.82V436.80M190.94,459.97V436.90M191.74,465.30V436.27M192.54,465.30V448.31M193.34,465.30V451.27M194.14,465.30V459.32" stroke="#ff0000" stroke-width="2.60" stroke-linecap="round" fill="none"/>
<path d="M195.95,465.30V461.50M196.75,465.30V460.94M197.55,465.30V453.55M198.35,465.30V448.12M199.15,465.30V449.48M199.95,465.30V449.43M200.75,465.30V447.07M201.55,465.30V447.16M202.35,465.30V451.46M203.15,465.30V452.51M203.95,465.30V455.26M204.75,465.30V454.77" stroke="#0000ff" stroke-width="2.60" stroke-linecap="round" fill="none"/>
<path d="M199.40,449.57V440.20" stroke="#0000ff" stroke-width="2.60" stroke-linecap="round" fill="none"/>
<path d="M205.92,465.30V457.00M206.72,465.30V455.05M207.52,465.30V456.93M208.32,465.30V455.83M209.12,465.30V454.82M209.92,465.30V453.74M210.72,465.30V449.83M211.52,465.30V452.82M212.32,465.30V453.20M213.12,465.30V455.64M213.92,465.30V460.04" stroke="#ff0000" stroke-width="2.60" stroke-linecap="round" fill="none"/>
<path d="M215.73,465.30V461.14M216.53,465.30V459.97M217.33,465.30V456.87M218.13,465.30V457.71M218.93,465.30V456.50M219.73,465.30V456.33M220.53,465.30V453.83M221.33,465.30V454.88M222.13,465.30V457.08M222.93,465.30V457.65M223.73,465.30V459.02M224.53,465.30V459.45" stroke="#0000ff" stroke-width="2.60" stroke-linecap="round" fill="none"/>
<path d="M225.61,465.30V458.71M226.41,465.30V458.29M227.21,465.30V456.77M228.01,465.30V456.10M228.81,465.30V458.95M229.61,465.30V457.32M230.41,465.30V458.33M231.21,465.30V456.28M232.01,465.30V453.37M232.81,465.30V453.02M233.61,465.30V454.41" stroke="#ff0000" stroke-width="2.60" stroke-linecap="round" fill="none"/>
<path d="M235.36,465.30V457.84M236.16,465.30V454.03M236.96,465.30V454.30M237.76,465.30V456.10M238.56,465.30V454.63M239.36,465.30V458.46M240.16,465.30V458.42M240.96,465.30V456.16" stroke="#0000ff" stroke-width="2.60" stroke-linecap="round" fill="none"/>
<path d="M242.72,465.30V458.18M243.52,465.30V457.82M244.32,465.30V456.27M245.12,465.30V455.40M245.92,465.30V455.91M246.72,465.30V458.22M247.52,465.30V457.22M248.32,465.30V455.41M249.12,465.30V456.92M249.92,465.30V458.06M250.72,465.30V460.34" stroke="#ff0000" stroke-width="2.60" stroke-linecap="round" fill="none"/>
<path d="M250.00,458.48V447.69" stroke="#ff0000" stroke-width="2.60" stroke-linecap="round" fill="none"/>
<path d="M252.21,465.30V459.46M253.01,465.30V457.35M253.81,465.30V460.02M254.61,465.30V458.40M255.41,465.30V457.25M256.21,465.30V457.90M257.01,465.30V459.22M257.81,465.30V458.07M258.61,465.30V459.53M259.41,465.30V457.17" stroke="#0000ff" stroke-width="2.60" stroke-linecap="round" fill="none"/>
<path d="M258.40,459.79V447.69" stroke="#0000ff" stroke-width="2.60" stroke-linecap="round" fill="none"/>
<path d="M260.63,465.30V457.77M261.43,465.30V455.11M262.23,465.30V454.96M263.03,465.30V455.54M263.83,465.30V457.23M264.63,465.30V455.71M265.43,465.30V455.16M266.23,465.30V457.64M267.03,465.30V457.11M267.83,465.30V457.30" stroke="#ff0000" stroke-width="2.60" stroke-linecap="round" fill="none"/>
<path d="M262.10,458.09V447.69" stroke="#ff0000" stroke-width="2.60" stroke-linecap="round" fill="none"/>
<path d="M269.11,465.30V457.41M269.91,465.30V455.15M270.71,465.30V458.33M271.51,465.30V456.58M272.31,465.30V458.69M273.11,465.30V456.61M273.91,465.30V456.30M274.71,465.30V457.11M275.51,465.30V459.95" stroke="#0000ff" stroke-width="2.60" stroke-linecap="round" fill="none"/>
<path d="M274.20,458.74V450.88" stroke="#0000ff" stroke-width="2.60" stroke-linecap="round" fill="none"/>
<path d="M277.16,465.30V460.62M277.96,465.30V462.48M278.76,465.30V464.06M279.56,465.30V464.02M280.36,465.30V464.37M281.16,465.30V464.26M281.96,465.30V464.41M282.76,465.30V464.59" stroke="#ff0000" stroke-width="2.60" stroke-linecap="round" fill="none"/>
<path d="M284.26,465.30V464.41M285.06,465.30V464.33M285.86,465.30V464.31M286.66,465.30V464.66M287.46,465.30V464.53M288.26,465.30V455.32M289.06,465.30V452.16" stroke="#0000ff" stroke-width="2.60" stroke-linecap="round" fill="none"/>
<path d="M290.26,465.30V448.58M291.06,465.30V441.41M291.86,465.30V436.98M292.66,465.30V442.88M293.46,465.30V441.04M294.26,465.30V448.41M295.06,465.30V448.58" stroke="#ff0000" stroke-width="2.60" stroke-linecap="round" fill="none"/>
<path d="M290.60,423.34V412.86" stroke="#ff0000" stroke-width="2.60" stroke-linecap="round" fill="none"/>
<path d="M290.52,437.90h0M290.41,432.49h0M290.68,427.14h0" stroke="#ff0000" stroke-width="2.60" stroke-linecap="round" fill="none"/>
<path d="M296.14,465.30V447.19M296.94,465.30V448.61M297.74,465.30V440.04M298.54,465.30V448.22M299.34,465.30V449.11M300.14,465.30V450.09M300.94,465.30V451.24" stroke="#0000ff" stroke-width="2.60" stroke-linecap="round" fill="none"/>
<path d="M302.10,465.30V441.30M302.90,465.30V446.99M303.70,465.30V446.06M304.50,465.30V433.85M305.30,465.30V439.95M306.10,465.30V435.97M306.90,465.30V437.15M307.70,465.30V437.12" stroke="#ff0000" stroke-width="2.60" stroke-linecap="round" fill="none"/>
<path d="M309.41,465.30V444.96M310.21,465.30V438.18M311.01,465.30V445.65M311.81,465.30V455.00M312.61,465.30V460.16" stroke="#0000ff" stroke-width="2.60" stroke-linecap="round" fill="none"/>
<path d="M314.34,465.30V432.49M315.14,465.30V425.28M315.94,465.30V429.06M316.74,465.30V425.01M317.54,465.30V428.19M318.34,465.30V437.31" stroke="#ff0000" stroke-width="2.60" stroke-linecap="round" fill="none"/>
<path d="M315.00,436.06V423.34" stroke="#ff0000" stroke-width="2.60" stroke-linecap="round" fill="none"/>
<path d="M317.00,436.38V425.97" stroke="#ff0000" stroke-width="2.60" stroke-linecap="round" fill="none"/>
<path d="M319.67,465.30V462.11M320.47,465.30V461.41M321.27,465.30V456.57M322.07,465.30V449.89M322.87,465.30V443.76M323.67,465.30V443.85" stroke="#0000ff" stroke-width="2.60" stroke-linecap="round" fill="none"/>
<path d="M324.10,426.34V420.72" stroke="#0000ff" stroke-width="2.60" stroke-linecap="round" fill="none"/>
<path d="M324.06,436.58h0M324.19,430.85h0" stroke="#0000ff" stroke-width="2.60" stroke-linecap="round" fill="none"/>
<line x1="380.40" y1="465.30" x2="410.30" y2="465.30" stroke="#ff0000" stroke-width="2.8" stroke-linecap="round"/>
<line x1="380.40" y1="434.08" x2="409.20" y2="434.08" stroke="#ff0000" stroke-width="2.8" stroke-linecap="round"/>
<line x1="382.30" y1="402.87" x2="383.50" y2="402.87" stroke="#ff0000" stroke-width="2.8" stroke-linecap="round"/>
<circle cx="389.10" cy="402.87" r="1.4" fill="#ff0000"/>
<line x1="403.30" y1="402.87" x2="406.80" y2="402.87" stroke="#ff0000" stroke-width="2.8" stroke-linecap="round"/>
<line x1="413.10" y1="465.30" x2="438.80" y2="465.30" stroke="#0000ff" stroke-width="2.8" stroke-linecap="round"/>
<line x1="441.60" y1="465.30" x2="441.77" y2="465.30" stroke="#0000ff" stroke-width="2.8" stroke-linecap="round"/>
<line x1="413.10" y1="434.08" x2="416.20" y2="434.08" stroke="#0000ff" stroke-width="2.8" stroke-linecap="round"/>
<line x1="420.80" y1="434.08" x2="427.80" y2="434.08" stroke="#0000ff" stroke-width="2.8" stroke-linecap="round"/>
<line x1="431.80" y1="434.08" x2="438.80" y2="434.08" stroke="#0000ff" stroke-width="2.8" stroke-linecap="round"/>
<line x1="441.60" y1="434.08" x2="441.77" y2="434.08" stroke="#0000ff" stroke-width="2.8" stroke-linecap="round"/>
<line x1="435.30" y1="402.87" x2="437.90" y2="402.87" stroke="#0000ff" stroke-width="2.8" stroke-linecap="round"/>
<circle cx="435.10" cy="371.65" r="1.4" fill="#0000ff"/>
<line x1="441.77" y1="465.30" x2="465.20" y2="465.30" stroke="#ff0000" stroke-width="2.8" stroke-linecap="round"/>
<line x1="468.00" y1="465.30" x2="468.07" y2="465.30" stroke="#ff0000" stroke-width="2.8" stroke-linecap="round"/>
<line x1="441.77" y1="434.08" x2="464.50" y2="434.08" stroke="#ff0000" stroke-width="2.8" stroke-linecap="round"/>
<line x1="444.20" y1="402.87" x2="445.80" y2="402.87" stroke="#ff0000" stroke-width="2.8" stroke-linecap="round"/>
<circle cx="456.80" cy="402.87" r="1.4" fill="#ff0000"/>
<circle cx="460.80" cy="402.87" r="1.4" fill="#ff0000"/>
<circle cx="465.00" cy="402.87" r="1.4" fill="#ff0000"/>
<circle cx="445.10" cy="371.65" r="1.4" fill="#ff0000"/>
<line x1="468.07" y1="465.30" x2="479.20" y2="465.30" stroke="#0000ff" stroke-width="2.8" stroke-linecap="round"/>
<line x1="482.00" y1="465.30" x2="482.07" y2="465.30" stroke="#0000ff" stroke-width="2.8" stroke-linecap="round"/>
<line x1="469.20" y1="434.08" x2="479.20" y2="434.08" stroke="#0000ff" stroke-width="2.8" stroke-linecap="round"/>
<line x1="482.00" y1="434.08" x2="482.07" y2="434.08" stroke="#0000ff" stroke-width="2.8" stroke-linecap="round"/>
<circle cx="469.00" cy="402.87" r="1.4" fill="#0000ff"/>
<line x1="474.30" y1="402.87" x2="474.60" y2="402.87" stroke="#0000ff" stroke-width="2.8" stroke-linecap="round"/>
<circle cx="478.80" cy="402.87" r="1.4" fill="#0000ff"/>
<line x1="482.07" y1="465.30" x2="490.90" y2="465.30" stroke="#ff0000" stroke-width="2.8" stroke-linecap="round"/>
<line x1="493.70" y1="465.30" x2="494.73" y2="465.30" stroke="#ff0000" stroke-width="2.8" stroke-linecap="round"/>
<line x1="482.07" y1="434.08" x2="492.60" y2="434.08" stroke="#ff0000" stroke-width="2.8" stroke-linecap="round"/>
<circle cx="484.10" cy="402.87" r="1.4" fill="#ff0000"/>
<circle cx="488.80" cy="402.87" r="1.4" fill="#ff0000"/>
<circle cx="492.50" cy="402.87" r="1.4" fill="#ff0000"/>
<line x1="494.73" y1="465.30" x2="506.10" y2="465.30" stroke="#0000ff" stroke-width="2.8" stroke-linecap="round"/>
<line x1="496.70" y1="434.08" x2="505.40" y2="434.08" stroke="#0000ff" stroke-width="2.8" stroke-linecap="round"/>
<line x1="508.20" y1="434.08" x2="508.46" y2="434.08" stroke="#0000ff" stroke-width="2.8" stroke-linecap="round"/>
<line x1="497.70" y1="402.87" x2="504.90" y2="402.87" stroke="#0000ff" stroke-width="2.8" stroke-linecap="round"/>
<circle cx="500.00" cy="371.65" r="1.4" fill="#0000ff"/>
<line x1="508.90" y1="465.30" x2="517.80" y2="465.30" stroke="#ff0000" stroke-width="2.8" stroke-linecap="round"/>
<circle cx="516.15" cy="465.30" r="1.4" fill="#ff0000"/>
<line x1="518.70" y1="465.30" x2="520.20" y2="465.30" stroke="#ff0000" stroke-width="2.8" stroke-linecap="round"/>
<line x1="508.46" y1="434.08" x2="509.60" y2="434.08" stroke="#ff0000" stroke-width="2.8" stroke-linecap="round"/>
<line x1="513.10" y1="434.08" x2="517.80" y2="434.08" stroke="#ff0000" stroke-width="2.8" stroke-linecap="round"/>
<line x1="516.40" y1="434.08" x2="517.10" y2="434.08" stroke="#ff0000" stroke-width="2.8" stroke-linecap="round"/>
<line x1="512.40" y1="402.87" x2="517.10" y2="402.87" stroke="#ff0000" stroke-width="2.8" stroke-linecap="round"/>
<circle cx="514.70" cy="371.65" r="1.4" fill="#ff0000"/>
<line x1="520.60" y1="465.30" x2="523.60" y2="465.30" stroke="#0000ff" stroke-width="2.8" stroke-linecap="round"/>
<line x1="520.20" y1="465.30" x2="530.00" y2="465.30" stroke="#0000ff" stroke-width="2.8" stroke-linecap="round"/>
<line x1="520.60" y1="434.08" x2="523.60" y2="434.08" stroke="#0000ff" stroke-width="2.8" stroke-linecap="round"/>
<line x1="521.10" y1="434.08" x2="524.10" y2="434.08" stroke="#0000ff" stroke-width="2.8" stroke-linecap="round"/>
<line x1="530.40" y1="434.08" x2="530.84" y2="434.08" stroke="#0000ff" stroke-width="2.8" stroke-linecap="round"/>
<circle cx="521.50" cy="402.87" r="1.4" fill="#0000ff"/>
<circle cx="524.80" cy="402.87" r="1.4" fill="#0000ff"/>
<circle cx="529.50" cy="402.87" r="1.4" fill="#0000ff"/>
<circle cx="529.50" cy="371.65" r="1.4" fill="#0000ff"/>
<line x1="532.80" y1="465.30" x2="540.50" y2="465.30" stroke="#ff0000" stroke-width="2.8" stroke-linecap="round"/>
<line x1="530.84" y1="434.08" x2="539.30" y2="434.08" stroke="#ff0000" stroke-width="2.8" stroke-linecap="round"/>
<line x1="532.30" y1="402.87" x2="534.20" y2="402.87" stroke="#ff0000" stroke-width="2.8" stroke-linecap="round"/>
<circle cx="532.00" cy="371.65" r="1.4" fill="#ff0000"/>
<circle cx="531.80" cy="340.43" r="1.4" fill="#ff0000"/>
<line x1="543.30" y1="465.30" x2="549.80" y2="465.30" stroke="#0000ff" stroke-width="2.8" stroke-linecap="round"/>
<line x1="542.10" y1="434.08" x2="551.00" y2="434.08" stroke="#0000ff" stroke-width="2.8" stroke-linecap="round"/>
<line x1="543.30" y1="402.87" x2="544.00" y2="402.87" stroke="#0000ff" stroke-width="2.8" stroke-linecap="round"/>
<circle cx="543.70" cy="371.65" r="1.4" fill="#0000ff"/>
<line x1="552.60" y1="465.30" x2="556.80" y2="465.30" stroke="#ff0000" stroke-width="2.8" stroke-linecap="round"/>
<line x1="553.80" y1="434.08" x2="559.10" y2="434.08" stroke="#ff0000" stroke-width="2.8" stroke-linecap="round"/>
<circle cx="556.30" cy="402.87" r="1.4" fill="#ff0000"/>
<line x1="559.60" y1="465.30" x2="566.90" y2="465.30" stroke="#0000ff" stroke-width="2.8" stroke-linecap="round"/>
<line x1="561.90" y1="434.08" x2="566.90" y2="434.08" stroke="#0000ff" stroke-width="2.8" stroke-linecap="round"/>
<line x1="565.40" y1="402.87" x2="566.90" y2="402.87" stroke="#0000ff" stroke-width="2.8" stroke-linecap="round"/>
<circle cx="566.90" cy="371.65" r="1.4" fill="#0000ff"/>
<line x1="569.70" y1="465.30" x2="576.20" y2="465.30" stroke="#ff0000" stroke-width="2.8" stroke-linecap="round"/>
<line x1="569.70" y1="434.08" x2="575.50" y2="434.08" stroke="#ff0000" stroke-width="2.8" stroke-linecap="round"/>
<line x1="578.30" y1="434.08" x2="578.46" y2="434.08" stroke="#ff0000" stroke-width="2.8" stroke-linecap="round"/>
<circle cx="576.90" cy="402.87" r="1.4" fill="#ff0000"/>
<line x1="579.00" y1="465.30" x2="583.70" y2="465.30" stroke="#0000ff" stroke-width="2.8" stroke-linecap="round"/>
<line x1="578.46" y1="434.08" x2="583.70" y2="434.08" stroke="#0000ff" stroke-width="2.8" stroke-linecap="round"/>
<circle cx="578.50" cy="402.87" r="1.4" fill="#0000ff"/>
<circle cx="583.90" cy="402.87" r="1.4" fill="#0000ff"/>
<circle cx="579.90" cy="371.65" r="1.4" fill="#0000ff"/>
<line x1="586.50" y1="465.30" x2="593.00" y2="465.30" stroke="#ff0000" stroke-width="2.8" stroke-linecap="round"/>
<circle cx="586.20" cy="434.08" r="1.4" fill="#ff0000"/>
<line x1="590.70" y1="434.08" x2="594.20" y2="434.08" stroke="#ff0000" stroke-width="2.8" stroke-linecap="round"/>
<circle cx="591.75" cy="402.87" r="1.4" fill="#ff0000"/>
<circle cx="595.60" cy="465.30" r="1.4" fill="#0000ff"/>
<line x1="600.50" y1="465.30" x2="601.90" y2="465.30" stroke="#0000ff" stroke-width="2.8" stroke-linecap="round"/>
<line x1="598.60" y1="434.08" x2="599.60" y2="434.08" stroke="#0000ff" stroke-width="2.8" stroke-linecap="round"/>
<line x1="597.00" y1="402.87" x2="598.90" y2="402.87" stroke="#0000ff" stroke-width="2.8" stroke-linecap="round"/>
<circle cx="603.30" cy="402.87" r="1.4" fill="#0000ff"/>
<circle cx="596.80" cy="371.65" r="1.4" fill="#0000ff"/>
<line x1="604.70" y1="465.30" x2="610.50" y2="465.30" stroke="#ff0000" stroke-width="2.8" stroke-linecap="round"/>
<line x1="604.70" y1="434.08" x2="607.00" y2="434.08" stroke="#ff0000" stroke-width="2.8" stroke-linecap="round"/>
<circle cx="606.15" cy="402.87" r="1.4" fill="#ff0000"/>
<line x1="613.30" y1="465.30" x2="618.20" y2="465.30" stroke="#0000ff" stroke-width="2.8" stroke-linecap="round"/>
<line x1="613.30" y1="434.08" x2="618.70" y2="434.08" stroke="#0000ff" stroke-width="2.8" stroke-linecap="round"/>
<circle cx="614.30" cy="402.87" r="1.4" fill="#0000ff"/>
<circle cx="620.10" cy="402.87" r="1.4" fill="#0000ff"/>
<circle cx="614.30" cy="371.65" r="1.4" fill="#0000ff"/>
<line x1="621.00" y1="465.30" x2="625.30" y2="465.30" stroke="#ff0000" stroke-width="2.8" stroke-linecap="round"/>
<line x1="621.50" y1="434.08" x2="623.40" y2="434.08" stroke="#ff0000" stroke-width="2.8" stroke-linecap="round"/>
<line x1="622.70" y1="402.87" x2="622.90" y2="402.87" stroke="#ff0000" stroke-width="2.8" stroke-linecap="round"/>
<line x1="628.10" y1="465.30" x2="631.60" y2="465.30" stroke="#0000ff" stroke-width="2.8" stroke-linecap="round"/>
<line x1="627.40" y1="434.08" x2="631.60" y2="434.08" stroke="#0000ff" stroke-width="2.8" stroke-linecap="round"/>
<circle cx="628.30" cy="402.87" r="1.4" fill="#0000ff"/>
<line x1="634.40" y1="465.30" x2="639.29" y2="465.30" stroke="#ff0000" stroke-width="2.8" stroke-linecap="round"/>
<line x1="634.40" y1="434.08" x2="637.40" y2="434.08" stroke="#ff0000" stroke-width="2.8" stroke-linecap="round"/>
<circle cx="635.75" cy="402.87" r="1.4" fill="#ff0000"/>
<line x1="639.29" y1="465.30" x2="639.70" y2="465.30" stroke="#0000ff" stroke-width="2.8" stroke-linecap="round"/>
<line x1="642.50" y1="465.30" x2="643.90" y2="465.30" stroke="#0000ff" stroke-width="2.8" stroke-linecap="round"/>
<line x1="640.20" y1="434.08" x2="643.90" y2="434.08" stroke="#0000ff" stroke-width="2.8" stroke-linecap="round"/>
<line x1="641.40" y1="402.87" x2="641.60" y2="402.87" stroke="#0000ff" stroke-width="2.8" stroke-linecap="round"/>
<circle cx="640.00" cy="371.65" r="1.4" fill="#0000ff"/>
<line x1="646.70" y1="465.30" x2="651.40" y2="465.30" stroke="#ff0000" stroke-width="2.8" stroke-linecap="round"/>
<line x1="646.70" y1="434.08" x2="649.10" y2="434.08" stroke="#ff0000" stroke-width="2.8" stroke-linecap="round"/>
<line x1="651.90" y1="434.08" x2="652.57" y2="434.08" stroke="#ff0000" stroke-width="2.8" stroke-linecap="round"/>
<circle cx="647.55" cy="402.87" r="1.4" fill="#ff0000"/>
<circle cx="650.50" cy="402.87" r="1.4" fill="#ff0000"/>
<line x1="654.20" y1="465.30" x2="656.60" y2="465.30" stroke="#0000ff" stroke-width="2.8" stroke-linecap="round"/>
<line x1="652.57" y1="434.08" x2="656.10" y2="434.08" stroke="#0000ff" stroke-width="2.8" stroke-linecap="round"/>
<circle cx="652.80" cy="402.87" r="1.4" fill="#0000ff"/>
<circle cx="659.15" cy="465.30" r="1.4" fill="#ff0000"/>
<line x1="661.70" y1="465.30" x2="662.83" y2="465.30" stroke="#ff0000" stroke-width="2.8" stroke-linecap="round"/>
<line x1="658.90" y1="434.08" x2="660.80" y2="434.08" stroke="#ff0000" stroke-width="2.8" stroke-linecap="round"/>
<circle cx="659.85" cy="402.87" r="1.4" fill="#ff0000"/>
<line x1="660.10" y1="371.65" x2="660.30" y2="371.65" stroke="#ff0000" stroke-width="2.8" stroke-linecap="round"/>
<line x1="662.83" y1="465.30" x2="668.01" y2="465.30" stroke="#0000ff" stroke-width="2.8" stroke-linecap="round"/>
<line x1="663.60" y1="434.08" x2="667.30" y2="434.08" stroke="#0000ff" stroke-width="2.8" stroke-linecap="round"/>
<circle cx="663.30" cy="402.87" r="1.4" fill="#0000ff"/>
<line x1="74.00" y1="932.20" x2="136.20" y2="932.20" stroke="#ff0000" stroke-width="5.2" stroke-linecap="round"/>
<line x1="77.60" y1="878.24" x2="121.20" y2="878.24" stroke="#ff0000" stroke-width="5.2" stroke-linecap="round"/>
<line x1="127.60" y1="878.24" x2="133.60" y2="878.24" stroke="#ff0000" stroke-width="5.2" stroke-linecap="round"/>
<circle cx="78.10" cy="824.29" r="2.6" fill="#ff0000"/>
<circle cx="89.80" cy="824.29" r="2.6" fill="#ff0000"/>
<line x1="98.60" y1="824.29" x2="111.50" y2="824.29" stroke="#ff0000" stroke-width="5.2" stroke-linecap="round"/>
<line x1="129.60" y1="824.29" x2="130.60" y2="824.29" stroke="#ff0000" stroke-width="5.2" stroke-linecap="round"/>
<circle cx="114.10" cy="770.33" r="2.6" fill="#ff0000"/>
<circle cx="132.70" cy="770.33" r="2.6" fill="#ff0000"/>
<line x1="141.40" y1="932.20" x2="142.40" y2="932.20" stroke="#0000ff" stroke-width="5.2" stroke-linecap="round"/>
<line x1="148.70" y1="932.20" x2="156.70" y2="932.20" stroke="#0000ff" stroke-width="5.2" stroke-linecap="round"/>
<line x1="166.30" y1="932.20" x2="192.60" y2="932.20" stroke="#0000ff" stroke-width="5.2" stroke-linecap="round"/>
<line x1="139.20" y1="878.24" x2="174.00" y2="878.24" stroke="#0000ff" stroke-width="5.2" stroke-linecap="round"/>
<line x1="185.40" y1="878.24" x2="188.90" y2="878.24" stroke="#0000ff" stroke-width="5.2" stroke-linecap="round"/>
<line x1="141.50" y1="824.29" x2="149.20" y2="824.29" stroke="#0000ff" stroke-width="5.2" stroke-linecap="round"/>
<circle cx="158.80" cy="824.29" r="2.6" fill="#0000ff"/>
<circle cx="170.45" cy="824.29" r="2.6" fill="#0000ff"/>
<circle cx="186.50" cy="824.29" r="2.6" fill="#0000ff"/>
<circle cx="158.80" cy="770.33" r="2.6" fill="#0000ff"/>
<circle cx="163.70" cy="770.33" r="2.6" fill="#0000ff"/>
<circle cx="171.20" cy="770.33" r="2.6" fill="#0000ff"/>
<circle cx="186.60" cy="770.33" r="2.6" fill="#0000ff"/>
<line x1="197.80" y1="932.20" x2="244.70" y2="932.20" stroke="#ff0000" stroke-width="5.2" stroke-linecap="round"/>
<line x1="249.90" y1="932.20" x2="250.00" y2="932.20" stroke="#ff0000" stroke-width="5.2" stroke-linecap="round"/>
<line x1="197.80" y1="878.24" x2="241.00" y2="878.24" stroke="#ff0000" stroke-width="5.2" stroke-linecap="round"/>
<line x1="249.90" y1="878.24" x2="250.00" y2="878.24" stroke="#ff0000" stroke-width="5.2" stroke-linecap="round"/>
<line x1="202.80" y1="824.29" x2="210.80" y2="824.29" stroke="#ff0000" stroke-width="5.2" stroke-linecap="round"/>
<line x1="233.80" y1="824.29" x2="241.00" y2="824.29" stroke="#ff0000" stroke-width="5.2" stroke-linecap="round"/>
<circle cx="213.40" cy="770.33" r="2.6" fill="#ff0000"/>
<line x1="250.00" y1="932.20" x2="262.80" y2="932.20" stroke="#0000ff" stroke-width="5.2" stroke-linecap="round"/>
<line x1="273.00" y1="932.20" x2="273.20" y2="932.20" stroke="#0000ff" stroke-width="5.2" stroke-linecap="round"/>
<line x1="250.00" y1="878.24" x2="272.50" y2="878.24" stroke="#0000ff" stroke-width="5.2" stroke-linecap="round"/>
<line x1="252.90" y1="824.29" x2="254.60" y2="824.29" stroke="#0000ff" stroke-width="5.2" stroke-linecap="round"/>
<line x1="262.30" y1="824.29" x2="272.00" y2="824.29" stroke="#0000ff" stroke-width="5.2" stroke-linecap="round"/>
<line x1="267.30" y1="770.33" x2="271.50" y2="770.33" stroke="#0000ff" stroke-width="5.2" stroke-linecap="round"/>
<line x1="278.40" y1="932.20" x2="298.10" y2="932.20" stroke="#ff0000" stroke-width="5.2" stroke-linecap="round"/>
<line x1="303.30" y1="932.20" x2="303.41" y2="932.20" stroke="#ff0000" stroke-width="5.2" stroke-linecap="round"/>
<line x1="279.20" y1="878.24" x2="298.80" y2="878.24" stroke="#ff0000" stroke-width="5.2" stroke-linecap="round"/>
<circle cx="279.00" cy="824.29" r="2.6" fill="#ff0000"/>
<circle cx="292.00" cy="824.29" r="2.6" fill="#ff0000"/>
<line x1="303.41" y1="932.20" x2="326.60" y2="932.20" stroke="#0000ff" stroke-width="5.2" stroke-linecap="round"/>
<line x1="305.30" y1="878.24" x2="323.60" y2="878.24" stroke="#0000ff" stroke-width="5.2" stroke-linecap="round"/>
<line x1="308.70" y1="824.29" x2="313.00" y2="824.29" stroke="#0000ff" stroke-width="5.2" stroke-linecap="round"/>
<circle cx="321.70" cy="824.29" r="2.6" fill="#0000ff"/>
<circle cx="310.60" cy="770.33" r="2.6" fill="#0000ff"/>
<circle cx="331.70" cy="932.20" r="2.6" fill="#ff0000"/>
<line x1="346.20" y1="932.20" x2="352.70" y2="932.20" stroke="#ff0000" stroke-width="5.2" stroke-linecap="round"/>
<line x1="331.30" y1="878.24" x2="348.90" y2="878.24" stroke="#ff0000" stroke-width="5.2" stroke-linecap="round"/>
<line x1="354.10" y1="878.24" x2="354.44" y2="878.24" stroke="#ff0000" stroke-width="5.2" stroke-linecap="round"/>
<line x1="331.10" y1="824.29" x2="350.20" y2="824.29" stroke="#ff0000" stroke-width="5.2" stroke-linecap="round"/>
<line x1="333.00" y1="770.33" x2="344.00" y2="770.33" stroke="#ff0000" stroke-width="5.2" stroke-linecap="round"/>
<circle cx="342.80" cy="716.37" r="2.6" fill="#ff0000"/>
<line x1="357.90" y1="932.20" x2="371.30" y2="932.20" stroke="#0000ff" stroke-width="5.2" stroke-linecap="round"/>
<line x1="354.44" y1="878.24" x2="371.30" y2="878.24" stroke="#0000ff" stroke-width="5.2" stroke-linecap="round"/>
<line x1="355.90" y1="824.29" x2="363.80" y2="824.29" stroke="#0000ff" stroke-width="5.2" stroke-linecap="round"/>
<line x1="369.80" y1="824.29" x2="371.30" y2="824.29" stroke="#0000ff" stroke-width="5.2" stroke-linecap="round"/>
<line x1="371.00" y1="770.33" x2="372.50" y2="770.33" stroke="#0000ff" stroke-width="5.2" stroke-linecap="round"/>
<line x1="376.50" y1="932.20" x2="393.50" y2="932.20" stroke="#ff0000" stroke-width="5.2" stroke-linecap="round"/>
<line x1="376.50" y1="878.24" x2="394.80" y2="878.24" stroke="#ff0000" stroke-width="5.2" stroke-linecap="round"/>
<circle cx="376.00" cy="824.29" r="2.6" fill="#ff0000"/>
<circle cx="383.30" cy="824.29" r="2.6" fill="#ff0000"/>
<circle cx="394.90" cy="824.29" r="2.6" fill="#ff0000"/>
<line x1="397.50" y1="824.29" x2="398.01" y2="824.29" stroke="#ff0000" stroke-width="5.2" stroke-linecap="round"/>
<line x1="398.70" y1="932.20" x2="402.20" y2="932.20" stroke="#0000ff" stroke-width="5.2" stroke-linecap="round"/>
<line x1="414.40" y1="932.20" x2="414.60" y2="932.20" stroke="#0000ff" stroke-width="5.2" stroke-linecap="round"/>
<line x1="401.20" y1="878.24" x2="414.10" y2="878.24" stroke="#0000ff" stroke-width="5.2" stroke-linecap="round"/>
<line x1="398.01" y1="824.29" x2="412.10" y2="824.29" stroke="#0000ff" stroke-width="5.2" stroke-linecap="round"/>
<circle cx="404.80" cy="770.33" r="2.6" fill="#0000ff"/>
<circle cx="412.30" cy="770.33" r="2.6" fill="#0000ff"/>
<line x1="419.80" y1="932.20" x2="429.50" y2="932.20" stroke="#ff0000" stroke-width="5.2" stroke-linecap="round"/>
<line x1="419.30" y1="878.24" x2="428.30" y2="878.24" stroke="#ff0000" stroke-width="5.2" stroke-linecap="round"/>
<circle cx="418.50" cy="824.29" r="2.6" fill="#ff0000"/>
<circle cx="425.90" cy="824.29" r="2.6" fill="#ff0000"/>
<circle cx="430.90" cy="824.29" r="2.6" fill="#ff0000"/>
<line x1="434.70" y1="932.20" x2="446.90" y2="932.20" stroke="#0000ff" stroke-width="5.2" stroke-linecap="round"/>
<line x1="433.50" y1="878.24" x2="446.90" y2="878.24" stroke="#0000ff" stroke-width="5.2" stroke-linecap="round"/>
<line x1="439.20" y1="824.29" x2="446.90" y2="824.29" stroke="#0000ff" stroke-width="5.2" stroke-linecap="round"/>
<circle cx="445.30" cy="770.33" r="2.6" fill="#0000ff"/>
<line x1="452.10" y1="932.20" x2="468.00" y2="932.20" stroke="#ff0000" stroke-width="5.2" stroke-linecap="round"/>
<line x1="452.10" y1="878.24" x2="465.50" y2="878.24" stroke="#ff0000" stroke-width="5.2" stroke-linecap="round"/>
<line x1="470.70" y1="878.24" x2="471.15" y2="878.24" stroke="#ff0000" stroke-width="5.2" stroke-linecap="round"/>
<circle cx="453.70" cy="824.29" r="2.6" fill="#ff0000"/>
<circle cx="460.70" cy="824.29" r="2.6" fill="#ff0000"/>
<circle cx="467.40" cy="824.29" r="2.6" fill="#ff0000"/>
<line x1="473.20" y1="932.20" x2="473.70" y2="932.20" stroke="#0000ff" stroke-width="5.2" stroke-linecap="round"/>
<circle cx="483.00" cy="932.20" r="2.6" fill="#0000ff"/>
<line x1="471.15" y1="878.24" x2="481.60" y2="878.24" stroke="#0000ff" stroke-width="5.2" stroke-linecap="round"/>
<line x1="472.00" y1="824.29" x2="480.40" y2="824.29" stroke="#0000ff" stroke-width="5.2" stroke-linecap="round"/>
<line x1="479.40" y1="770.33" x2="480.40" y2="770.33" stroke="#0000ff" stroke-width="5.2" stroke-linecap="round"/>
<circle cx="479.10" cy="716.37" r="2.6" fill="#0000ff"/>
<circle cx="479.40" cy="662.41" r="2.6" fill="#0000ff"/>
<line x1="486.80" y1="932.20" x2="493.60" y2="932.20" stroke="#ff0000" stroke-width="5.2" stroke-linecap="round"/>
<circle cx="502.85" cy="932.20" r="2.6" fill="#ff0000"/>
<line x1="486.80" y1="878.24" x2="501.50" y2="878.24" stroke="#ff0000" stroke-width="5.2" stroke-linecap="round"/>
<circle cx="486.20" cy="824.29" r="2.6" fill="#ff0000"/>
<line x1="493.10" y1="824.29" x2="500.30" y2="824.29" stroke="#ff0000" stroke-width="5.2" stroke-linecap="round"/>
<circle cx="486.20" cy="770.33" r="2.6" fill="#ff0000"/>
<line x1="495.50" y1="770.33" x2="498.50" y2="770.33" stroke="#ff0000" stroke-width="5.2" stroke-linecap="round"/>
<circle cx="501.60" cy="716.37" r="2.6" fill="#ff0000"/>
<circle cx="501.60" cy="662.41" r="2.6" fill="#ff0000"/>
<line x1="506.70" y1="932.20" x2="520.10" y2="932.20" stroke="#0000ff" stroke-width="5.2" stroke-linecap="round"/>
<line x1="506.70" y1="878.24" x2="517.60" y2="878.24" stroke="#0000ff" stroke-width="5.2" stroke-linecap="round"/>
<line x1="506.70" y1="824.29" x2="508.40" y2="824.29" stroke="#0000ff" stroke-width="5.2" stroke-linecap="round"/>
<circle cx="525.10" cy="932.20" r="2.6" fill="#ff0000"/>
<circle cx="535.50" cy="932.20" r="2.6" fill="#ff0000"/>
<line x1="522.80" y1="878.24" x2="524.40" y2="878.24" stroke="#ff0000" stroke-width="5.2" stroke-linecap="round"/>
<line x1="531.50" y1="878.24" x2="533.80" y2="878.24" stroke="#ff0000" stroke-width="5.2" stroke-linecap="round"/>
<line x1="523.80" y1="824.29" x2="529.10" y2="824.29" stroke="#ff0000" stroke-width="5.2" stroke-linecap="round"/>
<circle cx="535.20" cy="824.29" r="2.6" fill="#ff0000"/>
<circle cx="523.50" cy="770.33" r="2.6" fill="#ff0000"/>
<line x1="540.20" y1="932.20" x2="541.90" y2="932.20" stroke="#0000ff" stroke-width="5.2" stroke-linecap="round"/>
<line x1="548.80" y1="932.20" x2="551.30" y2="932.20" stroke="#0000ff" stroke-width="5.2" stroke-linecap="round"/>
<line x1="540.10" y1="878.24" x2="550.10" y2="878.24" stroke="#0000ff" stroke-width="5.2" stroke-linecap="round"/>
<circle cx="542.20" cy="824.29" r="2.6" fill="#0000ff"/>
<circle cx="552.70" cy="824.29" r="2.6" fill="#0000ff"/>
<circle cx="542.80" cy="770.33" r="2.6" fill="#0000ff"/>
<line x1="556.50" y1="932.20" x2="566.40" y2="932.20" stroke="#ff0000" stroke-width="5.2" stroke-linecap="round"/>
<line x1="555.30" y1="878.24" x2="565.30" y2="878.24" stroke="#ff0000" stroke-width="5.2" stroke-linecap="round"/>
<line x1="560.00" y1="824.29" x2="562.90" y2="824.29" stroke="#ff0000" stroke-width="5.2" stroke-linecap="round"/>
<circle cx="558.50" cy="770.33" r="2.6" fill="#ff0000"/>
<line x1="571.60" y1="932.20" x2="575.80" y2="932.20" stroke="#0000ff" stroke-width="5.2" stroke-linecap="round"/>
<line x1="570.50" y1="878.24" x2="577.00" y2="878.24" stroke="#0000ff" stroke-width="5.2" stroke-linecap="round"/>
<line x1="570.50" y1="824.29" x2="578.10" y2="824.29" stroke="#0000ff" stroke-width="5.2" stroke-linecap="round"/>
<circle cx="577.90" cy="770.33" r="2.6" fill="#0000ff"/>
<line x1="583.80" y1="932.20" x2="589.80" y2="932.20" stroke="#ff0000" stroke-width="5.2" stroke-linecap="round"/>
<line x1="582.20" y1="878.24" x2="582.80" y2="878.24" stroke="#ff0000" stroke-width="5.2" stroke-linecap="round"/>
<circle cx="588.65" cy="878.24" r="2.6" fill="#ff0000"/>
<circle cx="590.10" cy="824.29" r="2.6" fill="#ff0000"/>
<line x1="595.00" y1="932.20" x2="601.50" y2="932.20" stroke="#0000ff" stroke-width="5.2" stroke-linecap="round"/>
<line x1="593.80" y1="878.24" x2="602.00" y2="878.24" stroke="#0000ff" stroke-width="5.2" stroke-linecap="round"/>
<circle cx="595.90" cy="824.29" r="2.6" fill="#0000ff"/>
<line x1="606.70" y1="932.20" x2="617.80" y2="932.20" stroke="#ff0000" stroke-width="5.2" stroke-linecap="round"/>
<line x1="609.50" y1="878.24" x2="613.20" y2="878.24" stroke="#ff0000" stroke-width="5.2" stroke-linecap="round"/>
<line x1="619.50" y1="878.24" x2="619.63" y2="878.24" stroke="#ff0000" stroke-width="5.2" stroke-linecap="round"/>
<line x1="609.00" y1="824.29" x2="610.80" y2="824.29" stroke="#ff0000" stroke-width="5.2" stroke-linecap="round"/>
<circle cx="608.30" cy="770.33" r="2.6" fill="#ff0000"/>
<line x1="623.00" y1="932.20" x2="624.90" y2="932.20" stroke="#0000ff" stroke-width="5.2" stroke-linecap="round"/>
<line x1="619.63" y1="878.24" x2="626.00" y2="878.24" stroke="#0000ff" stroke-width="5.2" stroke-linecap="round"/>
<line x1="621.90" y1="824.29" x2="625.30" y2="824.29" stroke="#0000ff" stroke-width="5.2" stroke-linecap="round"/>
<line x1="630.10" y1="932.20" x2="635.40" y2="932.20" stroke="#ff0000" stroke-width="5.2" stroke-linecap="round"/>
<line x1="631.20" y1="878.24" x2="636.50" y2="878.24" stroke="#ff0000" stroke-width="5.2" stroke-linecap="round"/>
<line x1="634.30" y1="824.29" x2="635.40" y2="824.29" stroke="#ff0000" stroke-width="5.2" stroke-linecap="round"/>
<line x1="640.60" y1="932.20" x2="650.57" y2="932.20" stroke="#0000ff" stroke-width="5.2" stroke-linecap="round"/>
<line x1="641.70" y1="878.24" x2="649.40" y2="878.24" stroke="#0000ff" stroke-width="5.2" stroke-linecap="round"/>
<circle cx="640.30" cy="824.29" r="2.6" fill="#0000ff"/>
<circle cx="255.20" cy="770.33" r="2.6" fill="#0000ff" fill-opacity="0.55"/>
<circle cx="460.90" cy="770.33" r="2.6" fill="#ff0000" fill-opacity="0.55"/>
<circle cx="336.60" cy="932.20" r="2.6" fill="#ff0000" fill-opacity="0.55"/>
<path d="M340,14.21H21.70V225.29H340" fill="none" stroke="#b0b0b0" stroke-width="1.4"/>
<line x1="20.10" y1="215.70" x2="21.70" y2="215.70" stroke="#8a8a8a" stroke-width="0.9"/>
<text x="18.80" y="217.54" font-size="5.1" fill="#4d4d4d" text-anchor="end">0</text>
<line x1="20.10" y1="167.72" x2="21.70" y2="167.72" stroke="#8a8a8a" stroke-width="0.9"/>
<text x="18.80" y="169.56" font-size="5.1" fill="#4d4d4d" text-anchor="end">25</text>
<line x1="20.10" y1="119.75" x2="21.70" y2="119.75" stroke="#8a8a8a" stroke-width="0.9"/>
<text x="18.80" y="121.59" font-size="5.1" fill="#4d4d4d" text-anchor="end">50</text>
<line x1="20.10" y1="71.78" x2="21.70" y2="71.78" stroke="#8a8a8a" stroke-width="0.9"/>
<text x="18.80" y="73.61" font-size="5.1" fill="#4d4d4d" text-anchor="end">75</text>
<line x1="20.10" y1="23.80" x2="21.70" y2="23.80" stroke="#8a8a8a" stroke-width="0.9"/>
<text x="18.80" y="25.64" font-size="5.1" fill="#4d4d4d" text-anchor="end">100</text>
<line x1="52.45" y1="225.29" x2="52.45" y2="226.89" stroke="#8a8a8a" stroke-width="0.9"/>
<text x="52.45" y="231.55" font-size="5.1" fill="#4d4d4d" text-anchor="middle">1</text>
<line x1="83.44" y1="225.29" x2="83.44" y2="226.89" stroke="#8a8a8a" stroke-width="0.9"/>
<text x="83.44" y="231.55" font-size="5.1" fill="#4d4d4d" text-anchor="middle">2</text>
<line x1="111.39" y1="225.29" x2="111.39" y2="226.89" stroke="#8a8a8a" stroke-width="0.9"/>
<text x="111.39" y="231.55" font-size="5.1" fill="#4d4d4d" text-anchor="middle">3</text>
<line x1="131.66" y1="225.29" x2="131.66" y2="226.89" stroke="#8a8a8a" stroke-width="0.9"/>
<text x="131.66" y="231.55" font-size="5.1" fill="#4d4d4d" text-anchor="middle">4</text>
<line x1="145.08" y1="225.29" x2="145.08" y2="226.89" stroke="#8a8a8a" stroke-width="0.9"/>
<text x="145.08" y="231.55" font-size="5.1" fill="#4d4d4d" text-anchor="middle">5</text>
<line x1="158.35" y1="225.29" x2="158.35" y2="226.89" stroke="#8a8a8a" stroke-width="0.9"/>
<text x="158.35" y="231.55" font-size="5.1" fill="#4d4d4d" text-anchor="middle">6</text>
<line x1="171.17" y1="225.29" x2="171.17" y2="226.89" stroke="#8a8a8a" stroke-width="0.9"/>
<text x="171.17" y="231.55" font-size="5.1" fill="#4d4d4d" text-anchor="middle">7</text>
<line x1="182.43" y1="225.29" x2="182.43" y2="226.89" stroke="#8a8a8a" stroke-width="0.9"/>
<text x="182.43" y="231.55" font-size="5.1" fill="#4d4d4d" text-anchor="middle">8</text>
<line x1="193.37" y1="225.29" x2="193.37" y2="226.89" stroke="#8a8a8a" stroke-width="0.9"/>
<text x="193.37" y="231.55" font-size="5.1" fill="#4d4d4d" text-anchor="middle">9</text>
<line x1="204.07" y1="225.29" x2="204.07" y2="226.89" stroke="#8a8a8a" stroke-width="0.9"/>
<text x="204.07" y="231.55" font-size="5.1" fill="#4d4d4d" text-anchor="middle">10</text>
<line x1="212.85" y1="225.29" x2="212.85" y2="226.89" stroke="#8a8a8a" stroke-width="0.9"/>
<text x="212.85" y="231.55" font-size="5.1" fill="#4d4d4d" text-anchor="middle">11</text>
<line x1="221.21" y1="225.29" x2="221.21" y2="226.89" stroke="#8a8a8a" stroke-width="0.9"/>
<text x="221.21" y="231.55" font-size="5.1" fill="#4d4d4d" text-anchor="middle">12</text>
<line x1="230.79" y1="225.29" x2="230.79" y2="226.89" stroke="#8a8a8a" stroke-width="0.9"/>
<text x="230.79" y="231.55" font-size="5.1" fill="#4d4d4d" text-anchor="middle">13</text>
<line x1="239.41" y1="225.29" x2="239.41" y2="226.89" stroke="#8a8a8a" stroke-width="0.9"/>
<text x="239.41" y="231.55" font-size="5.1" fill="#4d4d4d" text-anchor="middle">14</text>
<line x1="247.89" y1="225.29" x2="247.89" y2="226.89" stroke="#8a8a8a" stroke-width="0.9"/>
<text x="247.89" y="231.55" font-size="5.1" fill="#4d4d4d" text-anchor="middle">15</text>
<line x1="256.91" y1="225.29" x2="256.91" y2="226.89" stroke="#8a8a8a" stroke-width="0.9"/>
<text x="256.91" y="231.55" font-size="5.1" fill="#4d4d4d" text-anchor="middle">16</text>
<line x1="265.42" y1="225.29" x2="265.42" y2="226.89" stroke="#8a8a8a" stroke-width="0.9"/>
<text x="265.42" y="231.55" font-size="5.1" fill="#4d4d4d" text-anchor="middle">17</text>
<line x1="273.74" y1="225.29" x2="273.74" y2="226.89" stroke="#8a8a8a" stroke-width="0.9"/>
<text x="273.74" y="231.55" font-size="5.1" fill="#4d4d4d" text-anchor="middle">18</text>
<line x1="281.37" y1="225.29" x2="281.37" y2="226.89" stroke="#8a8a8a" stroke-width="0.9"/>
<text x="281.37" y="231.55" font-size="5.1" fill="#4d4d4d" text-anchor="middle">19</text>
<line x1="287.97" y1="225.29" x2="287.97" y2="226.89" stroke="#8a8a8a" stroke-width="0.9"/>
<text x="287.97" y="231.55" font-size="5.1" fill="#4d4d4d" text-anchor="middle">20</text>
<line x1="293.95" y1="225.29" x2="293.95" y2="226.89" stroke="#8a8a8a" stroke-width="0.9"/>
<text x="293.95" y="231.55" font-size="5.1" fill="#4d4d4d" text-anchor="middle">21</text>
<line x1="299.92" y1="225.29" x2="299.92" y2="226.89" stroke="#8a8a8a" stroke-width="0.9"/>
<text x="299.92" y="231.55" font-size="5.1" fill="#4d4d4d" text-anchor="middle">22</text>
<line x1="306.60" y1="225.29" x2="306.60" y2="226.89" stroke="#8a8a8a" stroke-width="0.9"/>
<text x="306.60" y="231.55" font-size="5.1" fill="#4d4d4d" text-anchor="middle">23</text>
<line x1="312.76" y1="225.29" x2="312.76" y2="226.89" stroke="#8a8a8a" stroke-width="0.9"/>
<text x="312.76" y="231.55" font-size="5.1" fill="#4d4d4d" text-anchor="middle">24</text>
<line x1="317.92" y1="225.29" x2="317.92" y2="226.89" stroke="#8a8a8a" stroke-width="0.9"/>
<text x="317.92" y="231.55" font-size="5.1" fill="#4d4d4d" text-anchor="middle">25</text>
<line x1="323.21" y1="225.29" x2="323.21" y2="226.89" stroke="#8a8a8a" stroke-width="0.9"/>
<text x="323.21" y="231.55" font-size="5.1" fill="#4d4d4d" text-anchor="middle">26</text>
<text x="181.00" y="239.59" font-size="6.5" fill="#000" stroke="#000" stroke-width="0.12" text-anchor="middle">Chromosome</text>
<text x="0" y="0" transform="translate(6.50,119.75) rotate(-90)" font-size="6.2" fill="#000" stroke="#000" stroke-width="0.14" text-anchor="middle">% SNP in Runs</text>
<text x="22.3" y="9.5" font-size="9.9" fill="#000" textLength="57.8" lengthAdjust="spacingAndGlyphs">Akkaraman</text>
<rect x="363.40" y="13.99" width="319.00" height="211.31" fill="none" stroke="#b0b0b0" stroke-width="1.4"/>
<line x1="361.80" y1="215.70" x2="363.40" y2="215.70" stroke="#8a8a8a" stroke-width="0.9"/>
<text x="360.50" y="217.54" font-size="5.1" fill="#4d4d4d" text-anchor="end">0</text>
<line x1="361.80" y1="167.67" x2="363.40" y2="167.67" stroke="#8a8a8a" stroke-width="0.9"/>
<text x="360.50" y="169.51" font-size="5.1" fill="#4d4d4d" text-anchor="end">25</text>
<line x1="361.80" y1="119.65" x2="363.40" y2="119.65" stroke="#8a8a8a" stroke-width="0.9"/>
<text x="360.50" y="121.49" font-size="5.1" fill="#4d4d4d" text-anchor="end">50</text>
<line x1="361.80" y1="71.62" x2="363.40" y2="71.62" stroke="#8a8a8a" stroke-width="0.9"/>
<text x="360.50" y="73.46" font-size="5.1" fill="#4d4d4d" text-anchor="end">75</text>
<line x1="361.80" y1="23.60" x2="363.40" y2="23.60" stroke="#8a8a8a" stroke-width="0.9"/>
<text x="360.50" y="25.44" font-size="5.1" fill="#4d4d4d" text-anchor="end">100</text>
<line x1="394.19" y1="225.30" x2="394.19" y2="226.90" stroke="#8a8a8a" stroke-width="0.9"/>
<text x="394.19" y="231.56" font-size="5.1" fill="#4d4d4d" text-anchor="middle">1</text>
<line x1="425.22" y1="225.30" x2="425.22" y2="226.90" stroke="#8a8a8a" stroke-width="0.9"/>
<text x="425.22" y="231.56" font-size="5.1" fill="#4d4d4d" text-anchor="middle">2</text>
<line x1="453.20" y1="225.30" x2="453.20" y2="226.90" stroke="#8a8a8a" stroke-width="0.9"/>
<text x="453.20" y="231.56" font-size="5.1" fill="#4d4d4d" text-anchor="middle">3</text>
<line x1="473.50" y1="225.30" x2="473.50" y2="226.90" stroke="#8a8a8a" stroke-width="0.9"/>
<text x="473.50" y="231.56" font-size="5.1" fill="#4d4d4d" text-anchor="middle">4</text>
<line x1="486.93" y1="225.30" x2="486.93" y2="226.90" stroke="#8a8a8a" stroke-width="0.9"/>
<text x="486.93" y="231.56" font-size="5.1" fill="#4d4d4d" text-anchor="middle">5</text>
<line x1="500.22" y1="225.30" x2="500.22" y2="226.90" stroke="#8a8a8a" stroke-width="0.9"/>
<text x="500.22" y="231.56" font-size="5.1" fill="#4d4d4d" text-anchor="middle">6</text>
<line x1="513.06" y1="225.30" x2="513.06" y2="226.90" stroke="#8a8a8a" stroke-width="0.9"/>
<text x="513.06" y="231.56" font-size="5.1" fill="#4d4d4d" text-anchor="middle">7</text>
<line x1="524.33" y1="225.30" x2="524.33" y2="226.90" stroke="#8a8a8a" stroke-width="0.9"/>
<text x="524.33" y="231.56" font-size="5.1" fill="#4d4d4d" text-anchor="middle">8</text>
<line x1="535.29" y1="225.30" x2="535.29" y2="226.90" stroke="#8a8a8a" stroke-width="0.9"/>
<text x="535.29" y="231.56" font-size="5.1" fill="#4d4d4d" text-anchor="middle">9</text>
<line x1="546.00" y1="225.30" x2="546.00" y2="226.90" stroke="#8a8a8a" stroke-width="0.9"/>
<text x="546.00" y="231.56" font-size="5.1" fill="#4d4d4d" text-anchor="middle">10</text>
<line x1="554.79" y1="225.30" x2="554.79" y2="226.90" stroke="#8a8a8a" stroke-width="0.9"/>
<text x="554.79" y="231.56" font-size="5.1" fill="#4d4d4d" text-anchor="middle">11</text>
<line x1="563.16" y1="225.30" x2="563.16" y2="226.90" stroke="#8a8a8a" stroke-width="0.9"/>
<text x="563.16" y="231.56" font-size="5.1" fill="#4d4d4d" text-anchor="middle">12</text>
<line x1="572.75" y1="225.30" x2="572.75" y2="226.90" stroke="#8a8a8a" stroke-width="0.9"/>
<text x="572.75" y="231.56" font-size="5.1" fill="#4d4d4d" text-anchor="middle">13</text>
<line x1="581.38" y1="225.30" x2="581.38" y2="226.90" stroke="#8a8a8a" stroke-width="0.9"/>
<text x="581.38" y="231.56" font-size="5.1" fill="#4d4d4d" text-anchor="middle">14</text>
<line x1="589.87" y1="225.30" x2="589.87" y2="226.90" stroke="#8a8a8a" stroke-width="0.9"/>
<text x="589.87" y="231.56" font-size="5.1" fill="#4d4d4d" text-anchor="middle">15</text>
<line x1="598.90" y1="225.30" x2="598.90" y2="226.90" stroke="#8a8a8a" stroke-width="0.9"/>
<text x="598.90" y="231.56" font-size="5.1" fill="#4d4d4d" text-anchor="middle">16</text>
<line x1="607.42" y1="225.30" x2="607.42" y2="226.90" stroke="#8a8a8a" stroke-width="0.9"/>
<text x="607.42" y="231.56" font-size="5.1" fill="#4d4d4d" text-anchor="middle">17</text>
<line x1="615.76" y1="225.30" x2="615.76" y2="226.90" stroke="#8a8a8a" stroke-width="0.9"/>
<text x="615.76" y="231.56" font-size="5.1" fill="#4d4d4d" text-anchor="middle">18</text>
<line x1="623.39" y1="225.30" x2="623.39" y2="226.90" stroke="#8a8a8a" stroke-width="0.9"/>
<text x="623.39" y="231.56" font-size="5.1" fill="#4d4d4d" text-anchor="middle">19</text>
<line x1="630.00" y1="225.30" x2="630.00" y2="226.90" stroke="#8a8a8a" stroke-width="0.9"/>
<text x="630.00" y="231.56" font-size="5.1" fill="#4d4d4d" text-anchor="middle">20</text>
<line x1="636.00" y1="225.30" x2="636.00" y2="226.90" stroke="#8a8a8a" stroke-width="0.9"/>
<text x="636.00" y="231.56" font-size="5.1" fill="#4d4d4d" text-anchor="middle">21</text>
<line x1="641.96" y1="225.30" x2="641.96" y2="226.90" stroke="#8a8a8a" stroke-width="0.9"/>
<text x="641.96" y="231.56" font-size="5.1" fill="#4d4d4d" text-anchor="middle">22</text>
<line x1="648.66" y1="225.30" x2="648.66" y2="226.90" stroke="#8a8a8a" stroke-width="0.9"/>
<text x="648.66" y="231.56" font-size="5.1" fill="#4d4d4d" text-anchor="middle">23</text>
<line x1="654.83" y1="225.30" x2="654.83" y2="226.90" stroke="#8a8a8a" stroke-width="0.9"/>
<text x="654.83" y="231.56" font-size="5.1" fill="#4d4d4d" text-anchor="middle">24</text>
<line x1="660.00" y1="225.30" x2="660.00" y2="226.90" stroke="#8a8a8a" stroke-width="0.9"/>
<text x="660.00" y="231.56" font-size="5.1" fill="#4d4d4d" text-anchor="middle">25</text>
<line x1="665.29" y1="225.30" x2="665.29" y2="226.90" stroke="#8a8a8a" stroke-width="0.9"/>
<text x="665.29" y="231.56" font-size="5.1" fill="#4d4d4d" text-anchor="middle">26</text>
<text x="522.90" y="239.60" font-size="6.5" fill="#000" stroke="#000" stroke-width="0.12" text-anchor="middle">Chromosome</text>
<text x="0" y="0" transform="translate(348.20,119.65) rotate(-90)" font-size="6.2" fill="#000" stroke="#000" stroke-width="0.14" text-anchor="middle">% SNP in Runs</text>
<text x="364.0" y="9.4" font-size="9.9" fill="#000" textLength="52.6" lengthAdjust="spacingAndGlyphs">Karacabey</text>
<rect x="21.80" y="268.63" width="316.70" height="206.03" fill="none" stroke="#b0b0b0" stroke-width="1.4"/>
<line x1="20.20" y1="465.30" x2="21.80" y2="465.30" stroke="#8a8a8a" stroke-width="0.9"/>
<text x="18.90" y="467.14" font-size="5.1" fill="#4d4d4d" text-anchor="end">0</text>
<line x1="20.20" y1="418.48" x2="21.80" y2="418.48" stroke="#8a8a8a" stroke-width="0.9"/>
<text x="18.90" y="420.31" font-size="5.1" fill="#4d4d4d" text-anchor="end">25</text>
<line x1="20.20" y1="371.65" x2="21.80" y2="371.65" stroke="#8a8a8a" stroke-width="0.9"/>
<text x="18.90" y="373.49" font-size="5.1" fill="#4d4d4d" text-anchor="end">50</text>
<line x1="20.20" y1="324.82" x2="21.80" y2="324.82" stroke="#8a8a8a" stroke-width="0.9"/>
<text x="18.90" y="326.66" font-size="5.1" fill="#4d4d4d" text-anchor="end">75</text>
<line x1="20.20" y1="278.00" x2="21.80" y2="278.00" stroke="#8a8a8a" stroke-width="0.9"/>
<text x="18.90" y="279.84" font-size="5.1" fill="#4d4d4d" text-anchor="end">100</text>
<line x1="52.57" y1="474.67" x2="52.57" y2="476.27" stroke="#8a8a8a" stroke-width="0.9"/>
<text x="52.57" y="480.92" font-size="5.1" fill="#4d4d4d" text-anchor="middle">1</text>
<line x1="82.67" y1="474.67" x2="82.67" y2="476.27" stroke="#8a8a8a" stroke-width="0.9"/>
<text x="82.67" y="480.92" font-size="5.1" fill="#4d4d4d" text-anchor="middle">2</text>
<line x1="109.60" y1="474.67" x2="109.60" y2="476.27" stroke="#8a8a8a" stroke-width="0.9"/>
<text x="109.60" y="480.92" font-size="5.1" fill="#4d4d4d" text-anchor="middle">3</text>
<line x1="129.61" y1="474.67" x2="129.61" y2="476.27" stroke="#8a8a8a" stroke-width="0.9"/>
<text x="129.61" y="480.92" font-size="5.1" fill="#4d4d4d" text-anchor="middle">4</text>
<line x1="142.74" y1="474.67" x2="142.74" y2="476.27" stroke="#8a8a8a" stroke-width="0.9"/>
<text x="142.74" y="480.92" font-size="5.1" fill="#4d4d4d" text-anchor="middle">5</text>
<line x1="155.69" y1="474.67" x2="155.69" y2="476.27" stroke="#8a8a8a" stroke-width="0.9"/>
<text x="155.69" y="480.92" font-size="5.1" fill="#4d4d4d" text-anchor="middle">6</text>
<line x1="168.03" y1="474.67" x2="168.03" y2="476.27" stroke="#8a8a8a" stroke-width="0.9"/>
<text x="168.03" y="480.92" font-size="5.1" fill="#4d4d4d" text-anchor="middle">7</text>
<line x1="179.17" y1="474.67" x2="179.17" y2="476.27" stroke="#8a8a8a" stroke-width="0.9"/>
<text x="179.17" y="480.92" font-size="5.1" fill="#4d4d4d" text-anchor="middle">8</text>
<line x1="190.00" y1="474.67" x2="190.00" y2="476.27" stroke="#8a8a8a" stroke-width="0.9"/>
<text x="190.00" y="480.92" font-size="5.1" fill="#4d4d4d" text-anchor="middle">9</text>
<line x1="200.28" y1="474.67" x2="200.28" y2="476.27" stroke="#8a8a8a" stroke-width="0.9"/>
<text x="200.28" y="480.92" font-size="5.1" fill="#4d4d4d" text-anchor="middle">10</text>
<line x1="210.18" y1="474.67" x2="210.18" y2="476.27" stroke="#8a8a8a" stroke-width="0.9"/>
<text x="210.18" y="480.92" font-size="5.1" fill="#4d4d4d" text-anchor="middle">11</text>
<line x1="220.02" y1="474.67" x2="220.02" y2="476.27" stroke="#8a8a8a" stroke-width="0.9"/>
<text x="220.02" y="480.92" font-size="5.1" fill="#4d4d4d" text-anchor="middle">12</text>
<line x1="229.84" y1="474.67" x2="229.84" y2="476.27" stroke="#8a8a8a" stroke-width="0.9"/>
<text x="229.84" y="480.92" font-size="5.1" fill="#4d4d4d" text-anchor="middle">13</text>
<line x1="238.39" y1="474.67" x2="238.39" y2="476.27" stroke="#8a8a8a" stroke-width="0.9"/>
<text x="238.39" y="480.92" font-size="5.1" fill="#4d4d4d" text-anchor="middle">14</text>
<line x1="246.82" y1="474.67" x2="246.82" y2="476.27" stroke="#8a8a8a" stroke-width="0.9"/>
<text x="246.82" y="480.92" font-size="5.1" fill="#4d4d4d" text-anchor="middle">15</text>
<line x1="255.77" y1="474.67" x2="255.77" y2="476.27" stroke="#8a8a8a" stroke-width="0.9"/>
<text x="255.77" y="480.92" font-size="5.1" fill="#4d4d4d" text-anchor="middle">16</text>
<line x1="264.22" y1="474.67" x2="264.22" y2="476.27" stroke="#8a8a8a" stroke-width="0.9"/>
<text x="264.22" y="480.92" font-size="5.1" fill="#4d4d4d" text-anchor="middle">17</text>
<line x1="272.48" y1="474.67" x2="272.48" y2="476.27" stroke="#8a8a8a" stroke-width="0.9"/>
<text x="272.48" y="480.92" font-size="5.1" fill="#4d4d4d" text-anchor="middle">18</text>
<line x1="280.06" y1="474.67" x2="280.06" y2="476.27" stroke="#8a8a8a" stroke-width="0.9"/>
<text x="280.06" y="480.92" font-size="5.1" fill="#4d4d4d" text-anchor="middle">19</text>
<line x1="286.61" y1="474.67" x2="286.61" y2="476.27" stroke="#8a8a8a" stroke-width="0.9"/>
<text x="286.61" y="480.92" font-size="5.1" fill="#4d4d4d" text-anchor="middle">20</text>
<line x1="292.55" y1="474.67" x2="292.55" y2="476.27" stroke="#8a8a8a" stroke-width="0.9"/>
<text x="292.55" y="480.92" font-size="5.1" fill="#4d4d4d" text-anchor="middle">21</text>
<line x1="298.47" y1="474.67" x2="298.47" y2="476.27" stroke="#8a8a8a" stroke-width="0.9"/>
<text x="298.47" y="480.92" font-size="5.1" fill="#4d4d4d" text-anchor="middle">22</text>
<line x1="305.11" y1="474.67" x2="305.11" y2="476.27" stroke="#8a8a8a" stroke-width="0.9"/>
<text x="305.11" y="480.92" font-size="5.1" fill="#4d4d4d" text-anchor="middle">23</text>
<line x1="311.23" y1="474.67" x2="311.23" y2="476.27" stroke="#8a8a8a" stroke-width="0.9"/>
<text x="311.23" y="480.92" font-size="5.1" fill="#4d4d4d" text-anchor="middle">24</text>
<line x1="316.35" y1="474.67" x2="316.35" y2="476.27" stroke="#8a8a8a" stroke-width="0.9"/>
<text x="316.35" y="480.92" font-size="5.1" fill="#4d4d4d" text-anchor="middle">25</text>
<line x1="321.60" y1="474.67" x2="321.60" y2="476.27" stroke="#8a8a8a" stroke-width="0.9"/>
<text x="321.60" y="480.92" font-size="5.1" fill="#4d4d4d" text-anchor="middle">26</text>
<text x="180.15" y="488.97" font-size="6.5" fill="#000" stroke="#000" stroke-width="0.12" text-anchor="middle">Chromosome</text>
<text x="0" y="0" transform="translate(6.60,371.65) rotate(-90)" font-size="6.2" fill="#000" stroke="#000" stroke-width="0.14" text-anchor="middle">% SNP in Runs</text>
<text x="19.0" y="259.1" font-size="9.9" fill="#000" textLength="35.0" lengthAdjust="spacingAndGlyphs">Oamer</text>
<rect x="365.80" y="268.63" width="316.60" height="206.03" fill="none" stroke="#b0b0b0" stroke-width="1.4"/>
<line x1="364.20" y1="465.30" x2="365.80" y2="465.30" stroke="#8a8a8a" stroke-width="0.9"/>
<text x="362.90" y="467.14" font-size="5.1" fill="#4d4d4d" text-anchor="end">0</text>
<line x1="364.20" y1="418.48" x2="365.80" y2="418.48" stroke="#8a8a8a" stroke-width="0.9"/>
<text x="362.90" y="420.31" font-size="5.1" fill="#4d4d4d" text-anchor="end">25</text>
<line x1="364.20" y1="371.65" x2="365.80" y2="371.65" stroke="#8a8a8a" stroke-width="0.9"/>
<text x="362.90" y="373.49" font-size="5.1" fill="#4d4d4d" text-anchor="end">50</text>
<line x1="364.20" y1="324.82" x2="365.80" y2="324.82" stroke="#8a8a8a" stroke-width="0.9"/>
<text x="362.90" y="326.66" font-size="5.1" fill="#4d4d4d" text-anchor="end">75</text>
<line x1="364.20" y1="278.00" x2="365.80" y2="278.00" stroke="#8a8a8a" stroke-width="0.9"/>
<text x="362.90" y="279.84" font-size="5.1" fill="#4d4d4d" text-anchor="end">100</text>
<line x1="396.36" y1="474.67" x2="396.36" y2="476.27" stroke="#8a8a8a" stroke-width="0.9"/>
<text x="396.36" y="480.92" font-size="5.1" fill="#4d4d4d" text-anchor="middle">1</text>
<line x1="427.15" y1="474.67" x2="427.15" y2="476.27" stroke="#8a8a8a" stroke-width="0.9"/>
<text x="427.15" y="480.92" font-size="5.1" fill="#4d4d4d" text-anchor="middle">2</text>
<line x1="454.92" y1="474.67" x2="454.92" y2="476.27" stroke="#8a8a8a" stroke-width="0.9"/>
<text x="454.92" y="480.92" font-size="5.1" fill="#4d4d4d" text-anchor="middle">3</text>
<line x1="475.07" y1="474.67" x2="475.07" y2="476.27" stroke="#8a8a8a" stroke-width="0.9"/>
<text x="475.07" y="480.92" font-size="5.1" fill="#4d4d4d" text-anchor="middle">4</text>
<line x1="488.40" y1="474.67" x2="488.40" y2="476.27" stroke="#8a8a8a" stroke-width="0.9"/>
<text x="488.40" y="480.92" font-size="5.1" fill="#4d4d4d" text-anchor="middle">5</text>
<line x1="501.59" y1="474.67" x2="501.59" y2="476.27" stroke="#8a8a8a" stroke-width="0.9"/>
<text x="501.59" y="480.92" font-size="5.1" fill="#4d4d4d" text-anchor="middle">6</text>
<line x1="514.33" y1="474.67" x2="514.33" y2="476.27" stroke="#8a8a8a" stroke-width="0.9"/>
<text x="514.33" y="480.92" font-size="5.1" fill="#4d4d4d" text-anchor="middle">7</text>
<line x1="525.52" y1="474.67" x2="525.52" y2="476.27" stroke="#8a8a8a" stroke-width="0.9"/>
<text x="525.52" y="480.92" font-size="5.1" fill="#4d4d4d" text-anchor="middle">8</text>
<line x1="536.39" y1="474.67" x2="536.39" y2="476.27" stroke="#8a8a8a" stroke-width="0.9"/>
<text x="536.39" y="480.92" font-size="5.1" fill="#4d4d4d" text-anchor="middle">9</text>
<line x1="547.02" y1="474.67" x2="547.02" y2="476.27" stroke="#8a8a8a" stroke-width="0.9"/>
<text x="547.02" y="480.92" font-size="5.1" fill="#4d4d4d" text-anchor="middle">10</text>
<line x1="555.75" y1="474.67" x2="555.75" y2="476.27" stroke="#8a8a8a" stroke-width="0.9"/>
<text x="555.75" y="480.92" font-size="5.1" fill="#4d4d4d" text-anchor="middle">11</text>
<line x1="564.06" y1="474.67" x2="564.06" y2="476.27" stroke="#8a8a8a" stroke-width="0.9"/>
<text x="564.06" y="480.92" font-size="5.1" fill="#4d4d4d" text-anchor="middle">12</text>
<line x1="573.58" y1="474.67" x2="573.58" y2="476.27" stroke="#8a8a8a" stroke-width="0.9"/>
<text x="573.58" y="480.92" font-size="5.1" fill="#4d4d4d" text-anchor="middle">13</text>
<line x1="582.14" y1="474.67" x2="582.14" y2="476.27" stroke="#8a8a8a" stroke-width="0.9"/>
<text x="582.14" y="480.92" font-size="5.1" fill="#4d4d4d" text-anchor="middle">14</text>
<line x1="590.57" y1="474.67" x2="590.57" y2="476.27" stroke="#8a8a8a" stroke-width="0.9"/>
<text x="590.57" y="480.92" font-size="5.1" fill="#4d4d4d" text-anchor="middle">15</text>
<line x1="599.53" y1="474.67" x2="599.53" y2="476.27" stroke="#8a8a8a" stroke-width="0.9"/>
<text x="599.53" y="480.92" font-size="5.1" fill="#4d4d4d" text-anchor="middle">16</text>
<line x1="607.99" y1="474.67" x2="607.99" y2="476.27" stroke="#8a8a8a" stroke-width="0.9"/>
<text x="607.99" y="480.92" font-size="5.1" fill="#4d4d4d" text-anchor="middle">17</text>
<line x1="616.26" y1="474.67" x2="616.26" y2="476.27" stroke="#8a8a8a" stroke-width="0.9"/>
<text x="616.26" y="480.92" font-size="5.1" fill="#4d4d4d" text-anchor="middle">18</text>
<line x1="623.84" y1="474.67" x2="623.84" y2="476.27" stroke="#8a8a8a" stroke-width="0.9"/>
<text x="623.84" y="480.92" font-size="5.1" fill="#4d4d4d" text-anchor="middle">19</text>
<line x1="630.40" y1="474.67" x2="630.40" y2="476.27" stroke="#8a8a8a" stroke-width="0.9"/>
<text x="630.40" y="480.92" font-size="5.1" fill="#4d4d4d" text-anchor="middle">20</text>
<line x1="636.34" y1="474.67" x2="636.34" y2="476.27" stroke="#8a8a8a" stroke-width="0.9"/>
<text x="636.34" y="480.92" font-size="5.1" fill="#4d4d4d" text-anchor="middle">21</text>
<line x1="642.27" y1="474.67" x2="642.27" y2="476.27" stroke="#8a8a8a" stroke-width="0.9"/>
<text x="642.27" y="480.92" font-size="5.1" fill="#4d4d4d" text-anchor="middle">22</text>
<line x1="648.91" y1="474.67" x2="648.91" y2="476.27" stroke="#8a8a8a" stroke-width="0.9"/>
<text x="648.91" y="480.92" font-size="5.1" fill="#4d4d4d" text-anchor="middle">23</text>
<line x1="655.03" y1="474.67" x2="655.03" y2="476.27" stroke="#8a8a8a" stroke-width="0.9"/>
<text x="655.03" y="480.92" font-size="5.1" fill="#4d4d4d" text-anchor="middle">24</text>
<line x1="660.16" y1="474.67" x2="660.16" y2="476.27" stroke="#8a8a8a" stroke-width="0.9"/>
<text x="660.16" y="480.92" font-size="5.1" fill="#4d4d4d" text-anchor="middle">25</text>
<line x1="665.42" y1="474.67" x2="665.42" y2="476.27" stroke="#8a8a8a" stroke-width="0.9"/>
<text x="665.42" y="480.92" font-size="5.1" fill="#4d4d4d" text-anchor="middle">26</text>
<text x="524.10" y="488.97" font-size="6.5" fill="#000" stroke="#000" stroke-width="0.12" text-anchor="middle">Chromosome</text>
<text x="0" y="0" transform="translate(350.60,371.65) rotate(-90)" font-size="6.2" fill="#000" stroke="#000" stroke-width="0.14" text-anchor="middle">% SNP in Runs</text>
<text x="363.1" y="258.6" font-size="9.9" fill="#000" textLength="39.1" lengthAdjust="spacingAndGlyphs">Hasmer</text>
<rect x="45.10" y="535.62" width="634.30" height="415.47" fill="none" stroke="#767676" stroke-width="1.15"/>
<line x1="41.60" y1="932.20" x2="45.10" y2="932.20" stroke="#555" stroke-width="1.15"/>
<text x="38.70" y="936.28" font-size="10.2" fill="#4d4d4d" text-anchor="end">0</text>
<line x1="41.60" y1="837.78" x2="45.10" y2="837.78" stroke="#555" stroke-width="1.15"/>
<text x="38.70" y="841.86" font-size="10.2" fill="#4d4d4d" text-anchor="end">25</text>
<line x1="41.60" y1="743.35" x2="45.10" y2="743.35" stroke="#555" stroke-width="1.15"/>
<text x="38.70" y="747.43" font-size="10.2" fill="#4d4d4d" text-anchor="end">50</text>
<line x1="41.60" y1="648.92" x2="45.10" y2="648.92" stroke="#555" stroke-width="1.15"/>
<text x="38.70" y="653.00" font-size="10.2" fill="#4d4d4d" text-anchor="end">75</text>
<line x1="41.60" y1="554.50" x2="45.10" y2="554.50" stroke="#555" stroke-width="1.15"/>
<text x="38.70" y="558.58" font-size="10.2" fill="#4d4d4d" text-anchor="end">100</text>
<line x1="106.33" y1="951.09" x2="106.33" y2="954.59" stroke="#555" stroke-width="1.15"/>
<text x="106.33" y="964.39" font-size="10.2" fill="#4d4d4d" text-anchor="middle">1</text>
<line x1="168.01" y1="951.09" x2="168.01" y2="954.59" stroke="#555" stroke-width="1.15"/>
<text x="168.01" y="964.39" font-size="10.2" fill="#4d4d4d" text-anchor="middle">2</text>
<line x1="223.65" y1="951.09" x2="223.65" y2="954.59" stroke="#555" stroke-width="1.15"/>
<text x="223.65" y="964.39" font-size="10.2" fill="#4d4d4d" text-anchor="middle">3</text>
<line x1="264.03" y1="951.09" x2="264.03" y2="954.59" stroke="#555" stroke-width="1.15"/>
<text x="264.03" y="964.39" font-size="10.2" fill="#4d4d4d" text-anchor="middle">4</text>
<line x1="290.73" y1="951.09" x2="290.73" y2="954.59" stroke="#555" stroke-width="1.15"/>
<text x="290.73" y="964.39" font-size="10.2" fill="#4d4d4d" text-anchor="middle">5</text>
<line x1="317.16" y1="951.09" x2="317.16" y2="954.59" stroke="#555" stroke-width="1.15"/>
<text x="317.16" y="964.39" font-size="10.2" fill="#4d4d4d" text-anchor="middle">6</text>
<line x1="342.68" y1="951.09" x2="342.68" y2="954.59" stroke="#555" stroke-width="1.15"/>
<text x="342.68" y="964.39" font-size="10.2" fill="#4d4d4d" text-anchor="middle">7</text>
<line x1="365.10" y1="951.09" x2="365.10" y2="954.59" stroke="#555" stroke-width="1.15"/>
<text x="365.10" y="964.39" font-size="10.2" fill="#4d4d4d" text-anchor="middle">8</text>
<line x1="386.88" y1="951.09" x2="386.88" y2="954.59" stroke="#555" stroke-width="1.15"/>
<text x="386.88" y="964.39" font-size="10.2" fill="#4d4d4d" text-anchor="middle">9</text>
<line x1="408.17" y1="951.09" x2="408.17" y2="954.59" stroke="#555" stroke-width="1.15"/>
<text x="408.17" y="964.39" font-size="10.2" fill="#4d4d4d" text-anchor="middle">10</text>
<line x1="425.67" y1="951.09" x2="425.67" y2="954.59" stroke="#555" stroke-width="1.15"/>
<text x="425.67" y="964.39" font-size="10.2" fill="#4d4d4d" text-anchor="middle">11</text>
<line x1="442.30" y1="951.09" x2="442.30" y2="954.59" stroke="#555" stroke-width="1.15"/>
<text x="442.30" y="964.39" font-size="10.2" fill="#4d4d4d" text-anchor="middle">12</text>
<line x1="461.38" y1="951.09" x2="461.38" y2="954.59" stroke="#555" stroke-width="1.15"/>
<text x="461.38" y="964.39" font-size="10.2" fill="#4d4d4d" text-anchor="middle">13</text>
<line x1="478.53" y1="951.09" x2="478.53" y2="954.59" stroke="#555" stroke-width="1.15"/>
<text x="478.53" y="964.39" font-size="10.2" fill="#4d4d4d" text-anchor="middle">14</text>
<line x1="495.42" y1="951.09" x2="495.42" y2="954.59" stroke="#555" stroke-width="1.15"/>
<text x="495.42" y="964.39" font-size="10.2" fill="#4d4d4d" text-anchor="middle">15</text>
<line x1="513.37" y1="951.09" x2="513.37" y2="954.59" stroke="#555" stroke-width="1.15"/>
<text x="513.37" y="964.39" font-size="10.2" fill="#4d4d4d" text-anchor="middle">16</text>
<line x1="530.31" y1="951.09" x2="530.31" y2="954.59" stroke="#555" stroke-width="1.15"/>
<text x="530.31" y="964.39" font-size="10.2" fill="#4d4d4d" text-anchor="middle">17</text>
<line x1="546.89" y1="951.09" x2="546.89" y2="954.59" stroke="#555" stroke-width="1.15"/>
<text x="546.89" y="964.39" font-size="10.2" fill="#4d4d4d" text-anchor="middle">18</text>
<line x1="562.07" y1="951.09" x2="562.07" y2="954.59" stroke="#555" stroke-width="1.15"/>
<text x="562.07" y="964.39" font-size="10.2" fill="#4d4d4d" text-anchor="middle">19</text>
<line x1="575.21" y1="951.09" x2="575.21" y2="954.59" stroke="#555" stroke-width="1.15"/>
<text x="575.21" y="964.39" font-size="10.2" fill="#4d4d4d" text-anchor="middle">20</text>
<line x1="587.13" y1="951.09" x2="587.13" y2="954.59" stroke="#555" stroke-width="1.15"/>
<text x="587.13" y="964.39" font-size="10.2" fill="#4d4d4d" text-anchor="middle">21</text>
<line x1="599.00" y1="951.09" x2="599.00" y2="954.59" stroke="#555" stroke-width="1.15"/>
<text x="599.00" y="964.39" font-size="10.2" fill="#4d4d4d" text-anchor="middle">22</text>
<line x1="612.30" y1="951.09" x2="612.30" y2="954.59" stroke="#555" stroke-width="1.15"/>
<text x="612.30" y="964.39" font-size="10.2" fill="#4d4d4d" text-anchor="middle">23</text>
<line x1="624.57" y1="951.09" x2="624.57" y2="954.59" stroke="#555" stroke-width="1.15"/>
<text x="624.57" y="964.39" font-size="10.2" fill="#4d4d4d" text-anchor="middle">24</text>
<line x1="634.85" y1="951.09" x2="634.85" y2="954.59" stroke="#555" stroke-width="1.15"/>
<text x="634.85" y="964.39" font-size="10.2" fill="#4d4d4d" text-anchor="middle">25</text>
<line x1="645.38" y1="951.09" x2="645.38" y2="954.59" stroke="#555" stroke-width="1.15"/>
<text x="645.38" y="964.39" font-size="10.2" fill="#4d4d4d" text-anchor="middle">26</text>
<text x="362.25" y="978.59" font-size="12.9" fill="#000"  text-anchor="middle">Chromosome</text>
<text x="0" y="0" transform="translate(15.40,743.35) rotate(-90)" font-size="12.0" fill="#000"  text-anchor="middle">% SNP in Runs</text>
<text x="36.6" y="519.3" font-size="18.2" fill="#000" textLength="55.6" lengthAdjust="spacingAndGlyphs">Hasak</text>
</svg></body></html>
